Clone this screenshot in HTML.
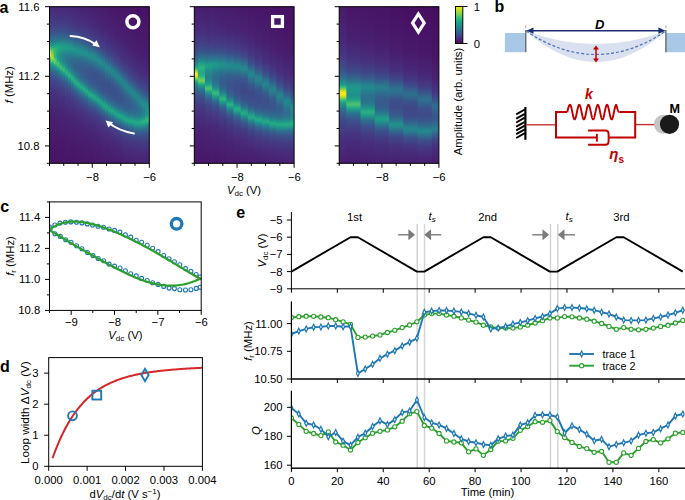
<!DOCTYPE html>
<html><head><meta charset="utf-8"><title>figure</title><style>html,body{margin:0;padding:0;background:#fff;overflow:hidden}svg{display:block;font-family:"Liberation Sans",sans-serif}</style></head><body>
<svg width="685" height="500" viewBox="0 0 685 500">
<defs><linearGradient id="g1" x1="0" y1="0" x2="0" y2="1"><stop offset="0.000" stop-color="#482979"/><stop offset="0.106" stop-color="#433d84"/><stop offset="0.167" stop-color="#3a538b"/><stop offset="0.211" stop-color="#2d718e"/><stop offset="0.239" stop-color="#21918c"/><stop offset="0.250" stop-color="#20a386"/><stop offset="0.256" stop-color="#28ae80"/><stop offset="0.261" stop-color="#3aba76"/><stop offset="0.267" stop-color="#56c667"/><stop offset="0.272" stop-color="#7ad151"/><stop offset="0.283" stop-color="#d0e11c"/><stop offset="0.289" stop-color="#f6e620"/><stop offset="0.294" stop-color="#fde725"/><stop offset="0.306" stop-color="#fde725"/><stop offset="0.311" stop-color="#f6e620"/><stop offset="0.317" stop-color="#d0e11c"/><stop offset="0.328" stop-color="#7ad151"/><stop offset="0.333" stop-color="#56c667"/><stop offset="0.339" stop-color="#3aba76"/><stop offset="0.344" stop-color="#28ae80"/><stop offset="0.350" stop-color="#20a386"/><stop offset="0.367" stop-color="#23898e"/><stop offset="0.400" stop-color="#31688e"/><stop offset="0.456" stop-color="#3e4989"/><stop offset="0.550" stop-color="#46307e"/><stop offset="0.700" stop-color="#482071"/><stop offset="0.939" stop-color="#481668"/><stop offset="1.000" stop-color="#471365"/></linearGradient><linearGradient id="g2" x1="0" y1="0" x2="0" y2="1"><stop offset="0.000" stop-color="#482979"/><stop offset="0.106" stop-color="#443b84"/><stop offset="0.172" stop-color="#3a548c"/><stop offset="0.217" stop-color="#2c738e"/><stop offset="0.244" stop-color="#1f948c"/><stop offset="0.256" stop-color="#21a585"/><stop offset="0.261" stop-color="#28ae80"/><stop offset="0.278" stop-color="#54c568"/><stop offset="0.289" stop-color="#6ece58"/><stop offset="0.322" stop-color="#a5db36"/><stop offset="0.328" stop-color="#a8db34"/><stop offset="0.333" stop-color="#a0da39"/><stop offset="0.339" stop-color="#8bd646"/><stop offset="0.350" stop-color="#50c46a"/><stop offset="0.356" stop-color="#37b878"/><stop offset="0.361" stop-color="#26ad81"/><stop offset="0.367" stop-color="#1fa188"/><stop offset="0.389" stop-color="#277e8e"/><stop offset="0.422" stop-color="#34608d"/><stop offset="0.467" stop-color="#3e4989"/><stop offset="0.544" stop-color="#46337f"/><stop offset="0.700" stop-color="#482071"/><stop offset="1.000" stop-color="#471365"/></linearGradient><linearGradient id="g3" x1="0" y1="0" x2="0" y2="1"><stop offset="0.000" stop-color="#482979"/><stop offset="0.100" stop-color="#443b84"/><stop offset="0.167" stop-color="#3a538b"/><stop offset="0.211" stop-color="#2c728e"/><stop offset="0.239" stop-color="#20938c"/><stop offset="0.250" stop-color="#1fa287"/><stop offset="0.267" stop-color="#2fb47c"/><stop offset="0.278" stop-color="#35b779"/><stop offset="0.311" stop-color="#2eb37c"/><stop offset="0.322" stop-color="#37b878"/><stop offset="0.344" stop-color="#63cb5f"/><stop offset="0.350" stop-color="#67cc5c"/><stop offset="0.356" stop-color="#60ca60"/><stop offset="0.367" stop-color="#3bbb75"/><stop offset="0.372" stop-color="#29af7f"/><stop offset="0.378" stop-color="#20a486"/><stop offset="0.394" stop-color="#24868e"/><stop offset="0.428" stop-color="#33638d"/><stop offset="0.472" stop-color="#3e4989"/><stop offset="0.556" stop-color="#46327e"/><stop offset="0.678" stop-color="#482374"/><stop offset="0.883" stop-color="#481769"/><stop offset="1.000" stop-color="#471365"/></linearGradient><linearGradient id="g4" x1="0" y1="0" x2="0" y2="1"><stop offset="0.000" stop-color="#482979"/><stop offset="0.094" stop-color="#443983"/><stop offset="0.161" stop-color="#3b518b"/><stop offset="0.211" stop-color="#2b758e"/><stop offset="0.244" stop-color="#1f9e89"/><stop offset="0.261" stop-color="#25ab82"/><stop offset="0.283" stop-color="#21a685"/><stop offset="0.311" stop-color="#1f9a8a"/><stop offset="0.333" stop-color="#1fa187"/><stop offset="0.344" stop-color="#27ad81"/><stop offset="0.356" stop-color="#3bbb75"/><stop offset="0.361" stop-color="#48c16e"/><stop offset="0.367" stop-color="#4ec36b"/><stop offset="0.372" stop-color="#4cc26c"/><stop offset="0.389" stop-color="#24aa83"/><stop offset="0.400" stop-color="#1f948c"/><stop offset="0.422" stop-color="#2b748e"/><stop offset="0.461" stop-color="#3a548c"/><stop offset="0.511" stop-color="#423f85"/><stop offset="0.600" stop-color="#472c7a"/><stop offset="0.772" stop-color="#481c6e"/><stop offset="1.000" stop-color="#481467"/></linearGradient><linearGradient id="g5" x1="0" y1="0" x2="0" y2="1"><stop offset="0.000" stop-color="#482878"/><stop offset="0.106" stop-color="#443b84"/><stop offset="0.167" stop-color="#3a548c"/><stop offset="0.200" stop-color="#2f6c8e"/><stop offset="0.239" stop-color="#1f968b"/><stop offset="0.256" stop-color="#20a486"/><stop offset="0.278" stop-color="#1f9f88"/><stop offset="0.311" stop-color="#238a8d"/><stop offset="0.333" stop-color="#228b8d"/><stop offset="0.356" stop-color="#1e9b8a"/><stop offset="0.367" stop-color="#24aa83"/><stop offset="0.383" stop-color="#3fbc73"/><stop offset="0.389" stop-color="#40bd72"/><stop offset="0.400" stop-color="#2db27d"/><stop offset="0.406" stop-color="#22a884"/><stop offset="0.411" stop-color="#1e9d89"/><stop offset="0.433" stop-color="#29798e"/><stop offset="0.461" stop-color="#355e8d"/><stop offset="0.506" stop-color="#404688"/><stop offset="0.550" stop-color="#453882"/><stop offset="0.661" stop-color="#482576"/><stop offset="0.839" stop-color="#481a6c"/><stop offset="1.000" stop-color="#481467"/></linearGradient><linearGradient id="g6" x1="0" y1="0" x2="0" y2="1"><stop offset="0.000" stop-color="#482878"/><stop offset="0.100" stop-color="#443983"/><stop offset="0.161" stop-color="#3c508b"/><stop offset="0.206" stop-color="#2d708e"/><stop offset="0.244" stop-color="#1f9a8a"/><stop offset="0.256" stop-color="#1fa188"/><stop offset="0.272" stop-color="#1e9d89"/><stop offset="0.306" stop-color="#25848e"/><stop offset="0.333" stop-color="#277f8e"/><stop offset="0.356" stop-color="#24878e"/><stop offset="0.378" stop-color="#1fa088"/><stop offset="0.389" stop-color="#29af7f"/><stop offset="0.400" stop-color="#3aba76"/><stop offset="0.406" stop-color="#38b977"/><stop offset="0.417" stop-color="#25ab82"/><stop offset="0.422" stop-color="#1fa188"/><stop offset="0.444" stop-color="#297b8e"/><stop offset="0.472" stop-color="#355f8d"/><stop offset="0.517" stop-color="#404588"/><stop offset="0.589" stop-color="#46307e"/><stop offset="0.700" stop-color="#482374"/><stop offset="0.906" stop-color="#481769"/><stop offset="1.000" stop-color="#481467"/></linearGradient><linearGradient id="g7" x1="0" y1="0" x2="0" y2="1"><stop offset="0.000" stop-color="#482677"/><stop offset="0.111" stop-color="#443a83"/><stop offset="0.172" stop-color="#3a538b"/><stop offset="0.217" stop-color="#2a778e"/><stop offset="0.250" stop-color="#1f9a8a"/><stop offset="0.267" stop-color="#1e9d89"/><stop offset="0.311" stop-color="#287d8e"/><stop offset="0.339" stop-color="#2b758e"/><stop offset="0.361" stop-color="#297a8e"/><stop offset="0.383" stop-color="#228b8d"/><stop offset="0.400" stop-color="#1fa187"/><stop offset="0.417" stop-color="#32b67a"/><stop offset="0.422" stop-color="#34b679"/><stop offset="0.433" stop-color="#25ab82"/><stop offset="0.439" stop-color="#1fa188"/><stop offset="0.456" stop-color="#25838e"/><stop offset="0.478" stop-color="#31688e"/><stop offset="0.511" stop-color="#3c4f8a"/><stop offset="0.567" stop-color="#443983"/><stop offset="0.661" stop-color="#482878"/><stop offset="0.828" stop-color="#481b6d"/><stop offset="1.000" stop-color="#481467"/></linearGradient><linearGradient id="g8" x1="0" y1="0" x2="0" y2="1"><stop offset="0.000" stop-color="#482576"/><stop offset="0.117" stop-color="#443a83"/><stop offset="0.178" stop-color="#3a538b"/><stop offset="0.222" stop-color="#2a778e"/><stop offset="0.256" stop-color="#1f998a"/><stop offset="0.267" stop-color="#1e9b8a"/><stop offset="0.289" stop-color="#228c8d"/><stop offset="0.322" stop-color="#2b748e"/><stop offset="0.356" stop-color="#2e6e8e"/><stop offset="0.383" stop-color="#2a778e"/><stop offset="0.406" stop-color="#228c8d"/><stop offset="0.417" stop-color="#1e9c89"/><stop offset="0.433" stop-color="#2db27d"/><stop offset="0.439" stop-color="#31b57b"/><stop offset="0.450" stop-color="#25ab82"/><stop offset="0.456" stop-color="#1fa187"/><stop offset="0.472" stop-color="#25838e"/><stop offset="0.500" stop-color="#33628d"/><stop offset="0.539" stop-color="#3e4989"/><stop offset="0.594" stop-color="#453581"/><stop offset="0.717" stop-color="#482374"/><stop offset="0.956" stop-color="#481668"/><stop offset="1.000" stop-color="#481467"/></linearGradient><linearGradient id="g9" x1="0" y1="0" x2="0" y2="1"><stop offset="0.000" stop-color="#482576"/><stop offset="0.100" stop-color="#463480"/><stop offset="0.167" stop-color="#3e4989"/><stop offset="0.211" stop-color="#31678e"/><stop offset="0.256" stop-color="#20938c"/><stop offset="0.272" stop-color="#1f988b"/><stop offset="0.306" stop-color="#277f8e"/><stop offset="0.328" stop-color="#2d708e"/><stop offset="0.361" stop-color="#31688e"/><stop offset="0.394" stop-color="#2e6f8e"/><stop offset="0.417" stop-color="#277f8e"/><stop offset="0.439" stop-color="#1f9e89"/><stop offset="0.450" stop-color="#27ad81"/><stop offset="0.456" stop-color="#2db27d"/><stop offset="0.461" stop-color="#2cb17e"/><stop offset="0.472" stop-color="#20a486"/><stop offset="0.483" stop-color="#21918c"/><stop offset="0.506" stop-color="#2d708e"/><stop offset="0.539" stop-color="#3b528b"/><stop offset="0.589" stop-color="#443b84"/><stop offset="0.678" stop-color="#482979"/><stop offset="0.844" stop-color="#481b6d"/><stop offset="1.000" stop-color="#481467"/></linearGradient><linearGradient id="g10" x1="0" y1="0" x2="0" y2="1"><stop offset="0.000" stop-color="#482475"/><stop offset="0.117" stop-color="#453581"/><stop offset="0.172" stop-color="#3f4889"/><stop offset="0.211" stop-color="#34608d"/><stop offset="0.267" stop-color="#1f948c"/><stop offset="0.278" stop-color="#1f968b"/><stop offset="0.306" stop-color="#26828e"/><stop offset="0.333" stop-color="#2e6d8e"/><stop offset="0.372" stop-color="#33628d"/><stop offset="0.406" stop-color="#31678e"/><stop offset="0.433" stop-color="#29798e"/><stop offset="0.456" stop-color="#1f968b"/><stop offset="0.467" stop-color="#22a884"/><stop offset="0.478" stop-color="#2ab07f"/><stop offset="0.489" stop-color="#22a884"/><stop offset="0.500" stop-color="#1f958b"/><stop offset="0.522" stop-color="#2c728e"/><stop offset="0.556" stop-color="#3a538b"/><stop offset="0.611" stop-color="#443a83"/><stop offset="0.700" stop-color="#482878"/><stop offset="0.878" stop-color="#481a6c"/><stop offset="1.000" stop-color="#481668"/></linearGradient><linearGradient id="g11" x1="0" y1="0" x2="0" y2="1"><stop offset="0.000" stop-color="#482374"/><stop offset="0.122" stop-color="#463480"/><stop offset="0.183" stop-color="#3e4989"/><stop offset="0.228" stop-color="#31688e"/><stop offset="0.267" stop-color="#218f8d"/><stop offset="0.283" stop-color="#1f948c"/><stop offset="0.306" stop-color="#25858e"/><stop offset="0.339" stop-color="#2f6b8e"/><stop offset="0.378" stop-color="#355f8d"/><stop offset="0.417" stop-color="#33628d"/><stop offset="0.450" stop-color="#2a768e"/><stop offset="0.472" stop-color="#20928c"/><stop offset="0.483" stop-color="#20a486"/><stop offset="0.489" stop-color="#25ac82"/><stop offset="0.500" stop-color="#27ad81"/><stop offset="0.511" stop-color="#1fa088"/><stop offset="0.533" stop-color="#297a8e"/><stop offset="0.561" stop-color="#365c8d"/><stop offset="0.606" stop-color="#424186"/><stop offset="0.689" stop-color="#472c7a"/><stop offset="0.811" stop-color="#481f70"/><stop offset="1.000" stop-color="#481668"/></linearGradient><linearGradient id="g12" x1="0" y1="0" x2="0" y2="1"><stop offset="0.000" stop-color="#482173"/><stop offset="0.122" stop-color="#46337f"/><stop offset="0.183" stop-color="#404688"/><stop offset="0.222" stop-color="#365d8d"/><stop offset="0.267" stop-color="#24878e"/><stop offset="0.278" stop-color="#21918c"/><stop offset="0.300" stop-color="#218e8d"/><stop offset="0.339" stop-color="#2e6d8e"/><stop offset="0.378" stop-color="#365d8d"/><stop offset="0.422" stop-color="#365d8d"/><stop offset="0.456" stop-color="#2f6b8e"/><stop offset="0.478" stop-color="#26828e"/><stop offset="0.494" stop-color="#1e9b8a"/><stop offset="0.506" stop-color="#25ab82"/><stop offset="0.517" stop-color="#26ad81"/><stop offset="0.528" stop-color="#1f9f88"/><stop offset="0.544" stop-color="#26818e"/><stop offset="0.567" stop-color="#32658e"/><stop offset="0.600" stop-color="#3e4c8a"/><stop offset="0.661" stop-color="#463480"/><stop offset="0.772" stop-color="#482374"/><stop offset="0.978" stop-color="#481769"/><stop offset="1.000" stop-color="#481668"/></linearGradient><linearGradient id="g13" x1="0" y1="0" x2="0" y2="1"><stop offset="0.000" stop-color="#482071"/><stop offset="0.122" stop-color="#46307e"/><stop offset="0.194" stop-color="#3f4788"/><stop offset="0.239" stop-color="#32648e"/><stop offset="0.283" stop-color="#218f8d"/><stop offset="0.300" stop-color="#21908d"/><stop offset="0.356" stop-color="#32658e"/><stop offset="0.400" stop-color="#38598c"/><stop offset="0.439" stop-color="#365c8d"/><stop offset="0.467" stop-color="#30698e"/><stop offset="0.489" stop-color="#277e8e"/><stop offset="0.511" stop-color="#1fa088"/><stop offset="0.522" stop-color="#25ac82"/><stop offset="0.533" stop-color="#23a983"/><stop offset="0.544" stop-color="#1f978b"/><stop offset="0.567" stop-color="#2c738e"/><stop offset="0.600" stop-color="#3a538b"/><stop offset="0.650" stop-color="#443b84"/><stop offset="0.728" stop-color="#472a7a"/><stop offset="0.867" stop-color="#481c6e"/><stop offset="1.000" stop-color="#481668"/></linearGradient><linearGradient id="g14" x1="0" y1="0" x2="0" y2="1"><stop offset="0.000" stop-color="#482071"/><stop offset="0.111" stop-color="#472d7b"/><stop offset="0.178" stop-color="#433d84"/><stop offset="0.228" stop-color="#3a548c"/><stop offset="0.272" stop-color="#287c8e"/><stop offset="0.294" stop-color="#218f8d"/><stop offset="0.306" stop-color="#21908d"/><stop offset="0.367" stop-color="#33628d"/><stop offset="0.417" stop-color="#39558c"/><stop offset="0.456" stop-color="#375a8c"/><stop offset="0.489" stop-color="#2f6c8e"/><stop offset="0.511" stop-color="#25848e"/><stop offset="0.528" stop-color="#1fa088"/><stop offset="0.539" stop-color="#25ac82"/><stop offset="0.550" stop-color="#22a785"/><stop offset="0.561" stop-color="#1f958b"/><stop offset="0.583" stop-color="#2c718e"/><stop offset="0.617" stop-color="#3b528b"/><stop offset="0.656" stop-color="#433e85"/><stop offset="0.728" stop-color="#472c7a"/><stop offset="0.844" stop-color="#481f70"/><stop offset="1.000" stop-color="#481769"/></linearGradient><linearGradient id="g15" x1="0" y1="0" x2="0" y2="1"><stop offset="0.000" stop-color="#481f70"/><stop offset="0.117" stop-color="#472c7a"/><stop offset="0.183" stop-color="#443b84"/><stop offset="0.233" stop-color="#3b528b"/><stop offset="0.278" stop-color="#2a778e"/><stop offset="0.300" stop-color="#228c8d"/><stop offset="0.317" stop-color="#228d8d"/><stop offset="0.367" stop-color="#31668e"/><stop offset="0.411" stop-color="#3a548c"/><stop offset="0.456" stop-color="#3a548c"/><stop offset="0.494" stop-color="#33628d"/><stop offset="0.522" stop-color="#297b8e"/><stop offset="0.544" stop-color="#1e9d89"/><stop offset="0.556" stop-color="#24aa83"/><stop offset="0.561" stop-color="#25ab82"/><stop offset="0.572" stop-color="#1fa088"/><stop offset="0.594" stop-color="#297a8e"/><stop offset="0.617" stop-color="#34608d"/><stop offset="0.656" stop-color="#404588"/><stop offset="0.722" stop-color="#46307e"/><stop offset="0.839" stop-color="#482071"/><stop offset="1.000" stop-color="#481769"/></linearGradient><linearGradient id="g16" x1="0" y1="0" x2="0" y2="1"><stop offset="0.000" stop-color="#481d6f"/><stop offset="0.117" stop-color="#472a7a"/><stop offset="0.200" stop-color="#433e85"/><stop offset="0.250" stop-color="#39568c"/><stop offset="0.306" stop-color="#23898e"/><stop offset="0.322" stop-color="#228d8d"/><stop offset="0.350" stop-color="#2a788e"/><stop offset="0.389" stop-color="#365d8d"/><stop offset="0.428" stop-color="#3b528b"/><stop offset="0.478" stop-color="#39558c"/><stop offset="0.517" stop-color="#30698e"/><stop offset="0.539" stop-color="#26828e"/><stop offset="0.556" stop-color="#1e9c89"/><stop offset="0.567" stop-color="#23a983"/><stop offset="0.578" stop-color="#22a785"/><stop offset="0.589" stop-color="#1f968b"/><stop offset="0.611" stop-color="#2c728e"/><stop offset="0.644" stop-color="#3b528b"/><stop offset="0.689" stop-color="#443b84"/><stop offset="0.761" stop-color="#472a7a"/><stop offset="0.922" stop-color="#481b6d"/><stop offset="1.000" stop-color="#481769"/></linearGradient><linearGradient id="g17" x1="0" y1="0" x2="0" y2="1"><stop offset="0.000" stop-color="#481d6f"/><stop offset="0.133" stop-color="#472a7a"/><stop offset="0.222" stop-color="#424186"/><stop offset="0.267" stop-color="#375b8d"/><stop offset="0.317" stop-color="#23898e"/><stop offset="0.333" stop-color="#228c8d"/><stop offset="0.394" stop-color="#355f8d"/><stop offset="0.433" stop-color="#3b528b"/><stop offset="0.483" stop-color="#3a548c"/><stop offset="0.517" stop-color="#34618d"/><stop offset="0.544" stop-color="#297a8e"/><stop offset="0.567" stop-color="#1e9c89"/><stop offset="0.578" stop-color="#23a983"/><stop offset="0.583" stop-color="#24aa83"/><stop offset="0.594" stop-color="#1f9e89"/><stop offset="0.611" stop-color="#26828e"/><stop offset="0.633" stop-color="#32648e"/><stop offset="0.667" stop-color="#3e4a89"/><stop offset="0.728" stop-color="#46337f"/><stop offset="0.828" stop-color="#482374"/><stop offset="1.000" stop-color="#48186a"/></linearGradient><linearGradient id="g18" x1="0" y1="0" x2="0" y2="1"><stop offset="0.000" stop-color="#481c6e"/><stop offset="0.128" stop-color="#482878"/><stop offset="0.217" stop-color="#443a83"/><stop offset="0.267" stop-color="#3b518b"/><stop offset="0.311" stop-color="#2a768e"/><stop offset="0.333" stop-color="#238a8d"/><stop offset="0.350" stop-color="#238a8d"/><stop offset="0.406" stop-color="#34608d"/><stop offset="0.444" stop-color="#3b528b"/><stop offset="0.494" stop-color="#3b528b"/><stop offset="0.533" stop-color="#33628d"/><stop offset="0.556" stop-color="#2b758e"/><stop offset="0.578" stop-color="#1f968b"/><stop offset="0.589" stop-color="#21a685"/><stop offset="0.600" stop-color="#22a884"/><stop offset="0.611" stop-color="#1e9b8a"/><stop offset="0.633" stop-color="#2b758e"/><stop offset="0.667" stop-color="#3a538b"/><stop offset="0.717" stop-color="#443a83"/><stop offset="0.811" stop-color="#482677"/><stop offset="0.972" stop-color="#481a6c"/><stop offset="1.000" stop-color="#48186a"/></linearGradient><linearGradient id="g19" x1="0" y1="0" x2="0" y2="1"><stop offset="0.000" stop-color="#481b6d"/><stop offset="0.139" stop-color="#482677"/><stop offset="0.233" stop-color="#443a83"/><stop offset="0.278" stop-color="#3d4e8a"/><stop offset="0.322" stop-color="#2c728e"/><stop offset="0.350" stop-color="#238a8d"/><stop offset="0.367" stop-color="#23888e"/><stop offset="0.417" stop-color="#34618d"/><stop offset="0.456" stop-color="#3b528b"/><stop offset="0.506" stop-color="#3b518b"/><stop offset="0.539" stop-color="#375b8d"/><stop offset="0.567" stop-color="#2e6f8e"/><stop offset="0.589" stop-color="#228c8d"/><stop offset="0.600" stop-color="#1f9f88"/><stop offset="0.611" stop-color="#23a983"/><stop offset="0.622" stop-color="#1fa287"/><stop offset="0.644" stop-color="#277e8e"/><stop offset="0.667" stop-color="#33628d"/><stop offset="0.700" stop-color="#3f4889"/><stop offset="0.772" stop-color="#472f7d"/><stop offset="0.900" stop-color="#481f70"/><stop offset="1.000" stop-color="#48186a"/></linearGradient><linearGradient id="g20" x1="0" y1="0" x2="0" y2="1"><stop offset="0.000" stop-color="#481a6c"/><stop offset="0.156" stop-color="#482677"/><stop offset="0.250" stop-color="#443b84"/><stop offset="0.300" stop-color="#3a538b"/><stop offset="0.339" stop-color="#2b748e"/><stop offset="0.367" stop-color="#238a8d"/><stop offset="0.389" stop-color="#26818e"/><stop offset="0.433" stop-color="#355f8d"/><stop offset="0.472" stop-color="#3b518b"/><stop offset="0.528" stop-color="#3b518b"/><stop offset="0.567" stop-color="#33628d"/><stop offset="0.594" stop-color="#287c8e"/><stop offset="0.617" stop-color="#1f9f88"/><stop offset="0.628" stop-color="#22a884"/><stop offset="0.639" stop-color="#1fa188"/><stop offset="0.661" stop-color="#287c8e"/><stop offset="0.683" stop-color="#34618d"/><stop offset="0.706" stop-color="#3c4f8a"/><stop offset="0.744" stop-color="#443b84"/><stop offset="0.822" stop-color="#482979"/><stop offset="0.972" stop-color="#481b6d"/><stop offset="1.000" stop-color="#481a6c"/></linearGradient><linearGradient id="g21" x1="0" y1="0" x2="0" y2="1"><stop offset="0.000" stop-color="#481a6c"/><stop offset="0.128" stop-color="#482173"/><stop offset="0.250" stop-color="#453581"/><stop offset="0.311" stop-color="#3c4f8a"/><stop offset="0.344" stop-color="#31688e"/><stop offset="0.378" stop-color="#24868e"/><stop offset="0.394" stop-color="#23888e"/><stop offset="0.417" stop-color="#2a778e"/><stop offset="0.456" stop-color="#365d8d"/><stop offset="0.489" stop-color="#3b528b"/><stop offset="0.539" stop-color="#3b528b"/><stop offset="0.578" stop-color="#34618d"/><stop offset="0.606" stop-color="#297b8e"/><stop offset="0.628" stop-color="#1e9d89"/><stop offset="0.639" stop-color="#22a884"/><stop offset="0.650" stop-color="#1fa287"/><stop offset="0.672" stop-color="#277e8e"/><stop offset="0.694" stop-color="#33628d"/><stop offset="0.728" stop-color="#3f4889"/><stop offset="0.794" stop-color="#46307e"/><stop offset="0.911" stop-color="#482071"/><stop offset="1.000" stop-color="#481a6c"/></linearGradient><linearGradient id="g22" x1="0" y1="0" x2="0" y2="1"><stop offset="0.000" stop-color="#48186a"/><stop offset="0.183" stop-color="#482677"/><stop offset="0.272" stop-color="#453882"/><stop offset="0.322" stop-color="#3d4e8a"/><stop offset="0.356" stop-color="#31678e"/><stop offset="0.389" stop-color="#25858e"/><stop offset="0.406" stop-color="#24878e"/><stop offset="0.467" stop-color="#365c8d"/><stop offset="0.500" stop-color="#3b518b"/><stop offset="0.556" stop-color="#3b518b"/><stop offset="0.594" stop-color="#33628d"/><stop offset="0.622" stop-color="#277e8e"/><stop offset="0.644" stop-color="#1fa088"/><stop offset="0.656" stop-color="#22a884"/><stop offset="0.667" stop-color="#1f9f88"/><stop offset="0.683" stop-color="#26828e"/><stop offset="0.706" stop-color="#32658e"/><stop offset="0.739" stop-color="#3e4a89"/><stop offset="0.794" stop-color="#463480"/><stop offset="0.894" stop-color="#482374"/><stop offset="1.000" stop-color="#481b6d"/></linearGradient><linearGradient id="g23" x1="0" y1="0" x2="0" y2="1"><stop offset="0.000" stop-color="#481769"/><stop offset="0.172" stop-color="#482374"/><stop offset="0.272" stop-color="#463480"/><stop offset="0.322" stop-color="#404588"/><stop offset="0.361" stop-color="#355e8d"/><stop offset="0.406" stop-color="#25858e"/><stop offset="0.422" stop-color="#24868e"/><stop offset="0.478" stop-color="#355e8d"/><stop offset="0.517" stop-color="#3b518b"/><stop offset="0.561" stop-color="#3b518b"/><stop offset="0.594" stop-color="#375b8d"/><stop offset="0.628" stop-color="#2b758e"/><stop offset="0.650" stop-color="#1f968b"/><stop offset="0.661" stop-color="#21a585"/><stop offset="0.667" stop-color="#22a884"/><stop offset="0.678" stop-color="#1fa088"/><stop offset="0.694" stop-color="#25838e"/><stop offset="0.717" stop-color="#32658e"/><stop offset="0.750" stop-color="#3e4a89"/><stop offset="0.806" stop-color="#463480"/><stop offset="0.906" stop-color="#482374"/><stop offset="1.000" stop-color="#481b6d"/></linearGradient><linearGradient id="g24" x1="0" y1="0" x2="0" y2="1"><stop offset="0.000" stop-color="#481769"/><stop offset="0.178" stop-color="#482173"/><stop offset="0.289" stop-color="#46337f"/><stop offset="0.350" stop-color="#3e4a89"/><stop offset="0.389" stop-color="#31678e"/><stop offset="0.422" stop-color="#25848e"/><stop offset="0.439" stop-color="#25858e"/><stop offset="0.500" stop-color="#365c8d"/><stop offset="0.533" stop-color="#3b518b"/><stop offset="0.583" stop-color="#3a538b"/><stop offset="0.622" stop-color="#32658e"/><stop offset="0.650" stop-color="#26828e"/><stop offset="0.667" stop-color="#1e9d89"/><stop offset="0.678" stop-color="#22a785"/><stop offset="0.689" stop-color="#1fa188"/><stop offset="0.711" stop-color="#287c8e"/><stop offset="0.744" stop-color="#39568c"/><stop offset="0.794" stop-color="#443b84"/><stop offset="0.878" stop-color="#482878"/><stop offset="1.000" stop-color="#481c6e"/></linearGradient><linearGradient id="g25" x1="0" y1="0" x2="0" y2="1"><stop offset="0.000" stop-color="#481668"/><stop offset="0.194" stop-color="#482173"/><stop offset="0.311" stop-color="#463480"/><stop offset="0.372" stop-color="#3d4d8a"/><stop offset="0.417" stop-color="#2d718e"/><stop offset="0.444" stop-color="#24868e"/><stop offset="0.467" stop-color="#277f8e"/><stop offset="0.511" stop-color="#355e8d"/><stop offset="0.550" stop-color="#3b528b"/><stop offset="0.600" stop-color="#3a548c"/><stop offset="0.639" stop-color="#31688e"/><stop offset="0.661" stop-color="#26818e"/><stop offset="0.678" stop-color="#1e9b8a"/><stop offset="0.689" stop-color="#22a785"/><stop offset="0.700" stop-color="#1fa287"/><stop offset="0.711" stop-color="#20928c"/><stop offset="0.733" stop-color="#2e6f8e"/><stop offset="0.767" stop-color="#3c4f8a"/><stop offset="0.811" stop-color="#443a83"/><stop offset="0.889" stop-color="#482878"/><stop offset="1.000" stop-color="#481d6f"/></linearGradient><linearGradient id="g26" x1="0" y1="0" x2="0" y2="1"><stop offset="0.000" stop-color="#481668"/><stop offset="0.211" stop-color="#482173"/><stop offset="0.311" stop-color="#46307e"/><stop offset="0.367" stop-color="#424186"/><stop offset="0.406" stop-color="#39568c"/><stop offset="0.461" stop-color="#25858e"/><stop offset="0.478" stop-color="#25838e"/><stop offset="0.533" stop-color="#355e8d"/><stop offset="0.578" stop-color="#3a538b"/><stop offset="0.611" stop-color="#39568c"/><stop offset="0.650" stop-color="#2f6b8e"/><stop offset="0.672" stop-color="#25858e"/><stop offset="0.689" stop-color="#1f9f88"/><stop offset="0.700" stop-color="#22a884"/><stop offset="0.711" stop-color="#1fa088"/><stop offset="0.733" stop-color="#297b8e"/><stop offset="0.756" stop-color="#34608d"/><stop offset="0.783" stop-color="#3e4a89"/><stop offset="0.839" stop-color="#463480"/><stop offset="0.939" stop-color="#482374"/><stop offset="1.000" stop-color="#481d6f"/></linearGradient><linearGradient id="g27" x1="0" y1="0" x2="0" y2="1"><stop offset="0.000" stop-color="#481467"/><stop offset="0.222" stop-color="#482071"/><stop offset="0.333" stop-color="#46307e"/><stop offset="0.400" stop-color="#404688"/><stop offset="0.433" stop-color="#375b8d"/><stop offset="0.483" stop-color="#25858e"/><stop offset="0.506" stop-color="#27808e"/><stop offset="0.550" stop-color="#34618d"/><stop offset="0.594" stop-color="#39558c"/><stop offset="0.639" stop-color="#355e8d"/><stop offset="0.667" stop-color="#2c718e"/><stop offset="0.689" stop-color="#218e8d"/><stop offset="0.700" stop-color="#1fa088"/><stop offset="0.711" stop-color="#22a884"/><stop offset="0.722" stop-color="#1fa088"/><stop offset="0.739" stop-color="#25838e"/><stop offset="0.767" stop-color="#34608d"/><stop offset="0.800" stop-color="#3f4889"/><stop offset="0.856" stop-color="#46337f"/><stop offset="0.956" stop-color="#482374"/><stop offset="1.000" stop-color="#481f70"/></linearGradient><linearGradient id="g28" x1="0" y1="0" x2="0" y2="1"><stop offset="0.000" stop-color="#481467"/><stop offset="0.228" stop-color="#481f70"/><stop offset="0.328" stop-color="#472c7a"/><stop offset="0.394" stop-color="#443b84"/><stop offset="0.444" stop-color="#3a548c"/><stop offset="0.500" stop-color="#25838e"/><stop offset="0.517" stop-color="#25848e"/><stop offset="0.578" stop-color="#355e8d"/><stop offset="0.622" stop-color="#38598c"/><stop offset="0.656" stop-color="#33628d"/><stop offset="0.683" stop-color="#29798e"/><stop offset="0.706" stop-color="#1f998a"/><stop offset="0.717" stop-color="#21a685"/><stop offset="0.722" stop-color="#22a884"/><stop offset="0.733" stop-color="#1f9f88"/><stop offset="0.750" stop-color="#26828e"/><stop offset="0.778" stop-color="#355f8d"/><stop offset="0.811" stop-color="#3f4788"/><stop offset="0.867" stop-color="#46337f"/><stop offset="0.967" stop-color="#482374"/><stop offset="1.000" stop-color="#482071"/></linearGradient><linearGradient id="g29" x1="0" y1="0" x2="0" y2="1"><stop offset="0.000" stop-color="#471365"/><stop offset="0.244" stop-color="#481f70"/><stop offset="0.367" stop-color="#472f7d"/><stop offset="0.433" stop-color="#414487"/><stop offset="0.472" stop-color="#365c8d"/><stop offset="0.517" stop-color="#26828e"/><stop offset="0.533" stop-color="#25858e"/><stop offset="0.589" stop-color="#33638d"/><stop offset="0.628" stop-color="#365c8d"/><stop offset="0.661" stop-color="#33638d"/><stop offset="0.689" stop-color="#2a788e"/><stop offset="0.711" stop-color="#1f978b"/><stop offset="0.722" stop-color="#21a685"/><stop offset="0.728" stop-color="#23a983"/><stop offset="0.739" stop-color="#1fa188"/><stop offset="0.761" stop-color="#287c8e"/><stop offset="0.789" stop-color="#365c8d"/><stop offset="0.828" stop-color="#414287"/><stop offset="0.900" stop-color="#472d7b"/><stop offset="1.000" stop-color="#482071"/></linearGradient><linearGradient id="g30" x1="0" y1="0" x2="0" y2="1"><stop offset="0.000" stop-color="#471365"/><stop offset="0.244" stop-color="#481d6f"/><stop offset="0.378" stop-color="#472e7c"/><stop offset="0.444" stop-color="#424186"/><stop offset="0.489" stop-color="#375b8d"/><stop offset="0.539" stop-color="#25858e"/><stop offset="0.556" stop-color="#25848e"/><stop offset="0.606" stop-color="#31668e"/><stop offset="0.639" stop-color="#34608d"/><stop offset="0.672" stop-color="#306a8e"/><stop offset="0.694" stop-color="#287c8e"/><stop offset="0.717" stop-color="#1e9c89"/><stop offset="0.728" stop-color="#22a884"/><stop offset="0.733" stop-color="#24aa83"/><stop offset="0.744" stop-color="#1f9f88"/><stop offset="0.761" stop-color="#26828e"/><stop offset="0.789" stop-color="#34608d"/><stop offset="0.822" stop-color="#3f4889"/><stop offset="0.878" stop-color="#46337f"/><stop offset="0.978" stop-color="#482374"/><stop offset="1.000" stop-color="#482173"/></linearGradient><linearGradient id="g31" x1="0" y1="0" x2="0" y2="1"><stop offset="0.000" stop-color="#471365"/><stop offset="0.261" stop-color="#481d6f"/><stop offset="0.378" stop-color="#472c7a"/><stop offset="0.444" stop-color="#443b84"/><stop offset="0.500" stop-color="#39568c"/><stop offset="0.556" stop-color="#25858e"/><stop offset="0.572" stop-color="#25858e"/><stop offset="0.617" stop-color="#306a8e"/><stop offset="0.650" stop-color="#32648e"/><stop offset="0.678" stop-color="#2f6b8e"/><stop offset="0.700" stop-color="#297b8e"/><stop offset="0.722" stop-color="#1f9a8a"/><stop offset="0.733" stop-color="#22a884"/><stop offset="0.744" stop-color="#22a884"/><stop offset="0.756" stop-color="#1f998a"/><stop offset="0.778" stop-color="#2b748e"/><stop offset="0.811" stop-color="#3a538b"/><stop offset="0.861" stop-color="#443a83"/><stop offset="0.956" stop-color="#482677"/><stop offset="1.000" stop-color="#482173"/></linearGradient><linearGradient id="g32" x1="0" y1="0" x2="0" y2="1"><stop offset="0.000" stop-color="#471164"/><stop offset="0.278" stop-color="#481d6f"/><stop offset="0.411" stop-color="#472e7c"/><stop offset="0.478" stop-color="#424186"/><stop offset="0.517" stop-color="#39558c"/><stop offset="0.572" stop-color="#25848e"/><stop offset="0.589" stop-color="#23888e"/><stop offset="0.633" stop-color="#2d708e"/><stop offset="0.661" stop-color="#2f6b8e"/><stop offset="0.689" stop-color="#2b748e"/><stop offset="0.711" stop-color="#238a8d"/><stop offset="0.728" stop-color="#1fa287"/><stop offset="0.739" stop-color="#25ac82"/><stop offset="0.750" stop-color="#21a585"/><stop offset="0.756" stop-color="#1e9d89"/><stop offset="0.772" stop-color="#27808e"/><stop offset="0.800" stop-color="#355f8d"/><stop offset="0.833" stop-color="#3f4889"/><stop offset="0.883" stop-color="#453581"/><stop offset="0.989" stop-color="#482374"/><stop offset="1.000" stop-color="#482173"/></linearGradient><linearGradient id="g33" x1="0" y1="0" x2="0" y2="1"><stop offset="0.000" stop-color="#471164"/><stop offset="0.294" stop-color="#481d6f"/><stop offset="0.439" stop-color="#46307e"/><stop offset="0.511" stop-color="#3f4889"/><stop offset="0.556" stop-color="#31678e"/><stop offset="0.589" stop-color="#25858e"/><stop offset="0.606" stop-color="#238a8d"/><stop offset="0.656" stop-color="#2b748e"/><stop offset="0.678" stop-color="#2b758e"/><stop offset="0.700" stop-color="#26828e"/><stop offset="0.722" stop-color="#1f9e89"/><stop offset="0.733" stop-color="#25ac82"/><stop offset="0.744" stop-color="#25ac82"/><stop offset="0.756" stop-color="#1f9e89"/><stop offset="0.783" stop-color="#2c718e"/><stop offset="0.817" stop-color="#3b528b"/><stop offset="0.867" stop-color="#443a83"/><stop offset="0.972" stop-color="#482576"/><stop offset="1.000" stop-color="#482374"/></linearGradient><linearGradient id="g34" x1="0" y1="0" x2="0" y2="1"><stop offset="0.000" stop-color="#471164"/><stop offset="0.306" stop-color="#481d6f"/><stop offset="0.439" stop-color="#472e7c"/><stop offset="0.511" stop-color="#414287"/><stop offset="0.561" stop-color="#355f8d"/><stop offset="0.611" stop-color="#228c8d"/><stop offset="0.633" stop-color="#228b8d"/><stop offset="0.661" stop-color="#27808e"/><stop offset="0.683" stop-color="#26818e"/><stop offset="0.706" stop-color="#20928c"/><stop offset="0.722" stop-color="#22a785"/><stop offset="0.733" stop-color="#2cb17e"/><stop offset="0.744" stop-color="#25ac82"/><stop offset="0.756" stop-color="#1f998a"/><stop offset="0.778" stop-color="#2b758e"/><stop offset="0.811" stop-color="#39558c"/><stop offset="0.850" stop-color="#424086"/><stop offset="0.928" stop-color="#472c7a"/><stop offset="1.000" stop-color="#482374"/></linearGradient><linearGradient id="g35" x1="0" y1="0" x2="0" y2="1"><stop offset="0.000" stop-color="#471164"/><stop offset="0.294" stop-color="#481c6e"/><stop offset="0.428" stop-color="#472a7a"/><stop offset="0.517" stop-color="#423f85"/><stop offset="0.572" stop-color="#365d8d"/><stop offset="0.617" stop-color="#24878e"/><stop offset="0.633" stop-color="#20938c"/><stop offset="0.661" stop-color="#20928c"/><stop offset="0.689" stop-color="#1f958b"/><stop offset="0.706" stop-color="#20a486"/><stop offset="0.722" stop-color="#32b67a"/><stop offset="0.728" stop-color="#34b679"/><stop offset="0.739" stop-color="#26ad81"/><stop offset="0.744" stop-color="#20a386"/><stop offset="0.756" stop-color="#218f8d"/><stop offset="0.778" stop-color="#2e6f8e"/><stop offset="0.811" stop-color="#3b528b"/><stop offset="0.861" stop-color="#443b84"/><stop offset="0.961" stop-color="#482677"/><stop offset="1.000" stop-color="#482374"/></linearGradient><linearGradient id="g36" x1="0" y1="0" x2="0" y2="1"><stop offset="0.000" stop-color="#471063"/><stop offset="0.322" stop-color="#481d6f"/><stop offset="0.439" stop-color="#472a7a"/><stop offset="0.528" stop-color="#423f85"/><stop offset="0.572" stop-color="#3a548c"/><stop offset="0.617" stop-color="#29798e"/><stop offset="0.650" stop-color="#1f9e89"/><stop offset="0.683" stop-color="#25ab82"/><stop offset="0.694" stop-color="#2cb17e"/><stop offset="0.711" stop-color="#44bf70"/><stop offset="0.717" stop-color="#48c16e"/><stop offset="0.722" stop-color="#44bf70"/><stop offset="0.733" stop-color="#2ab07f"/><stop offset="0.739" stop-color="#21a585"/><stop offset="0.750" stop-color="#21908d"/><stop offset="0.772" stop-color="#2d708e"/><stop offset="0.811" stop-color="#3c508b"/><stop offset="0.867" stop-color="#443983"/><stop offset="0.950" stop-color="#482878"/><stop offset="1.000" stop-color="#482374"/></linearGradient><linearGradient id="g37" x1="0" y1="0" x2="0" y2="1"><stop offset="0.000" stop-color="#481c6e"/><stop offset="0.156" stop-color="#472a7a"/><stop offset="0.250" stop-color="#433d84"/><stop offset="0.311" stop-color="#39558c"/><stop offset="0.350" stop-color="#2c718e"/><stop offset="0.378" stop-color="#20938c"/><stop offset="0.389" stop-color="#22a884"/><stop offset="0.394" stop-color="#2fb47c"/><stop offset="0.400" stop-color="#48c16e"/><stop offset="0.406" stop-color="#67cc5c"/><stop offset="0.417" stop-color="#b8de29"/><stop offset="0.422" stop-color="#dde318"/><stop offset="0.428" stop-color="#f6e620"/><stop offset="0.433" stop-color="#fde725"/><stop offset="0.439" stop-color="#f6e620"/><stop offset="0.444" stop-color="#dde318"/><stop offset="0.450" stop-color="#b8de29"/><stop offset="0.461" stop-color="#67cc5c"/><stop offset="0.467" stop-color="#48c16e"/><stop offset="0.472" stop-color="#2fb47c"/><stop offset="0.478" stop-color="#22a884"/><stop offset="0.489" stop-color="#20938c"/><stop offset="0.517" stop-color="#2c718e"/><stop offset="0.561" stop-color="#3b528b"/><stop offset="0.628" stop-color="#443a83"/><stop offset="0.728" stop-color="#482878"/><stop offset="0.894" stop-color="#481b6d"/><stop offset="1.000" stop-color="#481769"/></linearGradient><linearGradient id="g38" x1="0" y1="0" x2="0" y2="1"><stop offset="0.000" stop-color="#481d6f"/><stop offset="0.150" stop-color="#472d7b"/><stop offset="0.244" stop-color="#414287"/><stop offset="0.289" stop-color="#39568c"/><stop offset="0.328" stop-color="#2c738e"/><stop offset="0.356" stop-color="#1f948c"/><stop offset="0.372" stop-color="#23a983"/><stop offset="0.389" stop-color="#2cb17e"/><stop offset="0.422" stop-color="#23a983"/><stop offset="0.439" stop-color="#2ab07f"/><stop offset="0.450" stop-color="#3dbc74"/><stop offset="0.467" stop-color="#69cd5b"/><stop offset="0.472" stop-color="#6ccd5a"/><stop offset="0.478" stop-color="#63cb5f"/><stop offset="0.489" stop-color="#3aba76"/><stop offset="0.494" stop-color="#27ad81"/><stop offset="0.500" stop-color="#1fa187"/><stop offset="0.522" stop-color="#287c8e"/><stop offset="0.550" stop-color="#34618d"/><stop offset="0.589" stop-color="#3e4a89"/><stop offset="0.667" stop-color="#46337f"/><stop offset="0.789" stop-color="#482374"/><stop offset="0.994" stop-color="#481769"/><stop offset="1.000" stop-color="#481769"/></linearGradient><linearGradient id="g39" x1="0" y1="0" x2="0" y2="1"><stop offset="0.000" stop-color="#481c6e"/><stop offset="0.150" stop-color="#472a7a"/><stop offset="0.233" stop-color="#443b84"/><stop offset="0.294" stop-color="#39558c"/><stop offset="0.339" stop-color="#297b8e"/><stop offset="0.367" stop-color="#1f9a8a"/><stop offset="0.378" stop-color="#1fa088"/><stop offset="0.394" stop-color="#1f998a"/><stop offset="0.428" stop-color="#26828e"/><stop offset="0.456" stop-color="#277f8e"/><stop offset="0.478" stop-color="#238a8d"/><stop offset="0.494" stop-color="#1f9e89"/><stop offset="0.500" stop-color="#22a785"/><stop offset="0.506" stop-color="#2ab07f"/><stop offset="0.517" stop-color="#42be71"/><stop offset="0.522" stop-color="#46c06f"/><stop offset="0.528" stop-color="#3fbc73"/><stop offset="0.539" stop-color="#25ab82"/><stop offset="0.544" stop-color="#1f9f88"/><stop offset="0.567" stop-color="#29798e"/><stop offset="0.594" stop-color="#365d8d"/><stop offset="0.633" stop-color="#404688"/><stop offset="0.694" stop-color="#463480"/><stop offset="0.789" stop-color="#482576"/><stop offset="0.950" stop-color="#481a6c"/><stop offset="1.000" stop-color="#481769"/></linearGradient><linearGradient id="g40" x1="0" y1="0" x2="0" y2="1"><stop offset="0.000" stop-color="#481c6e"/><stop offset="0.156" stop-color="#472a7a"/><stop offset="0.256" stop-color="#414287"/><stop offset="0.300" stop-color="#375a8c"/><stop offset="0.333" stop-color="#2a778e"/><stop offset="0.361" stop-color="#1f948c"/><stop offset="0.372" stop-color="#1f988b"/><stop offset="0.394" stop-color="#228b8d"/><stop offset="0.428" stop-color="#2c728e"/><stop offset="0.461" stop-color="#2f6b8e"/><stop offset="0.494" stop-color="#2b748e"/><stop offset="0.511" stop-color="#26828e"/><stop offset="0.528" stop-color="#1e9b8a"/><stop offset="0.533" stop-color="#20a486"/><stop offset="0.544" stop-color="#32b67a"/><stop offset="0.550" stop-color="#38b977"/><stop offset="0.556" stop-color="#37b878"/><stop offset="0.567" stop-color="#23a983"/><stop offset="0.578" stop-color="#20928c"/><stop offset="0.600" stop-color="#2d708e"/><stop offset="0.633" stop-color="#3b528b"/><stop offset="0.683" stop-color="#443b84"/><stop offset="0.772" stop-color="#482979"/><stop offset="0.939" stop-color="#481b6d"/><stop offset="1.000" stop-color="#48186a"/></linearGradient><linearGradient id="g41" x1="0" y1="0" x2="0" y2="1"><stop offset="0.000" stop-color="#481b6d"/><stop offset="0.139" stop-color="#482677"/><stop offset="0.244" stop-color="#443b84"/><stop offset="0.300" stop-color="#39568c"/><stop offset="0.339" stop-color="#29798e"/><stop offset="0.361" stop-color="#218f8d"/><stop offset="0.378" stop-color="#21918c"/><stop offset="0.428" stop-color="#306a8e"/><stop offset="0.461" stop-color="#355e8d"/><stop offset="0.494" stop-color="#365d8d"/><stop offset="0.528" stop-color="#306a8e"/><stop offset="0.550" stop-color="#277f8e"/><stop offset="0.572" stop-color="#1fa287"/><stop offset="0.583" stop-color="#2db27d"/><stop offset="0.589" stop-color="#31b57b"/><stop offset="0.600" stop-color="#24aa83"/><stop offset="0.606" stop-color="#1fa088"/><stop offset="0.622" stop-color="#26818e"/><stop offset="0.644" stop-color="#32648e"/><stop offset="0.672" stop-color="#3d4e8a"/><stop offset="0.717" stop-color="#443a83"/><stop offset="0.806" stop-color="#482878"/><stop offset="0.956" stop-color="#481b6d"/><stop offset="1.000" stop-color="#48186a"/></linearGradient><linearGradient id="g42" x1="0" y1="0" x2="0" y2="1"><stop offset="0.000" stop-color="#481a6c"/><stop offset="0.156" stop-color="#482677"/><stop offset="0.244" stop-color="#453882"/><stop offset="0.289" stop-color="#3e4989"/><stop offset="0.333" stop-color="#306a8e"/><stop offset="0.367" stop-color="#228b8d"/><stop offset="0.383" stop-color="#228c8d"/><stop offset="0.439" stop-color="#34618d"/><stop offset="0.483" stop-color="#3a538b"/><stop offset="0.528" stop-color="#39558c"/><stop offset="0.561" stop-color="#33638d"/><stop offset="0.589" stop-color="#287d8e"/><stop offset="0.606" stop-color="#1f988b"/><stop offset="0.611" stop-color="#1fa287"/><stop offset="0.622" stop-color="#2ab07f"/><stop offset="0.633" stop-color="#25ac82"/><stop offset="0.639" stop-color="#1fa287"/><stop offset="0.656" stop-color="#25838e"/><stop offset="0.678" stop-color="#32658e"/><stop offset="0.711" stop-color="#3e4a89"/><stop offset="0.772" stop-color="#46337f"/><stop offset="0.878" stop-color="#482374"/><stop offset="1.000" stop-color="#481a6c"/></linearGradient><linearGradient id="g43" x1="0" y1="0" x2="0" y2="1"><stop offset="0.000" stop-color="#48186a"/><stop offset="0.172" stop-color="#482677"/><stop offset="0.267" stop-color="#443b84"/><stop offset="0.317" stop-color="#3a548c"/><stop offset="0.372" stop-color="#24868e"/><stop offset="0.389" stop-color="#23898e"/><stop offset="0.444" stop-color="#355e8d"/><stop offset="0.478" stop-color="#3c508b"/><stop offset="0.533" stop-color="#3e4c8a"/><stop offset="0.572" stop-color="#39558c"/><stop offset="0.606" stop-color="#2f6b8e"/><stop offset="0.628" stop-color="#23888e"/><stop offset="0.639" stop-color="#1e9c89"/><stop offset="0.650" stop-color="#25ac82"/><stop offset="0.661" stop-color="#25ab82"/><stop offset="0.672" stop-color="#1f9a8a"/><stop offset="0.694" stop-color="#2c738e"/><stop offset="0.728" stop-color="#3b518b"/><stop offset="0.772" stop-color="#443b84"/><stop offset="0.856" stop-color="#482878"/><stop offset="0.994" stop-color="#481b6d"/><stop offset="1.000" stop-color="#481b6d"/></linearGradient><linearGradient id="g44" x1="0" y1="0" x2="0" y2="1"><stop offset="0.000" stop-color="#48186a"/><stop offset="0.161" stop-color="#482374"/><stop offset="0.261" stop-color="#463480"/><stop offset="0.317" stop-color="#3e4a89"/><stop offset="0.356" stop-color="#30698e"/><stop offset="0.383" stop-color="#25838e"/><stop offset="0.400" stop-color="#24878e"/><stop offset="0.417" stop-color="#287c8e"/><stop offset="0.456" stop-color="#365c8d"/><stop offset="0.489" stop-color="#3d4e8a"/><stop offset="0.539" stop-color="#3f4788"/><stop offset="0.594" stop-color="#3b528b"/><stop offset="0.628" stop-color="#31678e"/><stop offset="0.644" stop-color="#297a8e"/><stop offset="0.667" stop-color="#1fa088"/><stop offset="0.678" stop-color="#25ac82"/><stop offset="0.689" stop-color="#21a585"/><stop offset="0.694" stop-color="#1e9c89"/><stop offset="0.717" stop-color="#2b758e"/><stop offset="0.744" stop-color="#39568c"/><stop offset="0.783" stop-color="#423f85"/><stop offset="0.844" stop-color="#472d7b"/><stop offset="0.989" stop-color="#481c6e"/><stop offset="1.000" stop-color="#481c6e"/></linearGradient><linearGradient id="g45" x1="0" y1="0" x2="0" y2="1"><stop offset="0.000" stop-color="#481668"/><stop offset="0.189" stop-color="#482173"/><stop offset="0.300" stop-color="#463480"/><stop offset="0.350" stop-color="#3f4889"/><stop offset="0.383" stop-color="#34608d"/><stop offset="0.422" stop-color="#25838e"/><stop offset="0.439" stop-color="#25848e"/><stop offset="0.500" stop-color="#38588c"/><stop offset="0.544" stop-color="#3e4a89"/><stop offset="0.594" stop-color="#3e4c8a"/><stop offset="0.628" stop-color="#39568c"/><stop offset="0.661" stop-color="#2d708e"/><stop offset="0.683" stop-color="#21918c"/><stop offset="0.694" stop-color="#20a386"/><stop offset="0.706" stop-color="#25ab82"/><stop offset="0.717" stop-color="#1f9f88"/><stop offset="0.733" stop-color="#26818e"/><stop offset="0.756" stop-color="#33628d"/><stop offset="0.789" stop-color="#3f4889"/><stop offset="0.844" stop-color="#46337f"/><stop offset="0.928" stop-color="#482475"/><stop offset="1.000" stop-color="#481d6f"/></linearGradient><linearGradient id="g46" x1="0" y1="0" x2="0" y2="1"><stop offset="0.000" stop-color="#481467"/><stop offset="0.222" stop-color="#482173"/><stop offset="0.333" stop-color="#453581"/><stop offset="0.389" stop-color="#3d4d8a"/><stop offset="0.428" stop-color="#2f6c8e"/><stop offset="0.456" stop-color="#25838e"/><stop offset="0.472" stop-color="#26828e"/><stop offset="0.528" stop-color="#38598c"/><stop offset="0.572" stop-color="#3e4c8a"/><stop offset="0.606" stop-color="#3e4c8a"/><stop offset="0.644" stop-color="#39568c"/><stop offset="0.672" stop-color="#30698e"/><stop offset="0.689" stop-color="#287c8e"/><stop offset="0.711" stop-color="#1fa188"/><stop offset="0.722" stop-color="#24aa83"/><stop offset="0.733" stop-color="#1fa088"/><stop offset="0.750" stop-color="#26828e"/><stop offset="0.772" stop-color="#33638d"/><stop offset="0.806" stop-color="#3f4889"/><stop offset="0.861" stop-color="#46337f"/><stop offset="0.950" stop-color="#482374"/><stop offset="1.000" stop-color="#481f70"/></linearGradient><linearGradient id="g47" x1="0" y1="0" x2="0" y2="1"><stop offset="0.000" stop-color="#481467"/><stop offset="0.228" stop-color="#481f70"/><stop offset="0.350" stop-color="#46307e"/><stop offset="0.417" stop-color="#3e4a89"/><stop offset="0.444" stop-color="#355e8d"/><stop offset="0.483" stop-color="#26818e"/><stop offset="0.500" stop-color="#26828e"/><stop offset="0.556" stop-color="#375b8d"/><stop offset="0.589" stop-color="#3c508b"/><stop offset="0.639" stop-color="#3b528b"/><stop offset="0.661" stop-color="#375a8c"/><stop offset="0.689" stop-color="#2e6e8e"/><stop offset="0.711" stop-color="#228c8d"/><stop offset="0.722" stop-color="#1f9f88"/><stop offset="0.733" stop-color="#23a983"/><stop offset="0.744" stop-color="#1fa188"/><stop offset="0.761" stop-color="#25838e"/><stop offset="0.783" stop-color="#32648e"/><stop offset="0.817" stop-color="#3e4989"/><stop offset="0.856" stop-color="#453882"/><stop offset="0.944" stop-color="#482576"/><stop offset="1.000" stop-color="#481f70"/></linearGradient><linearGradient id="g48" x1="0" y1="0" x2="0" y2="1"><stop offset="0.000" stop-color="#471365"/><stop offset="0.244" stop-color="#481d6f"/><stop offset="0.372" stop-color="#472e7c"/><stop offset="0.439" stop-color="#414287"/><stop offset="0.483" stop-color="#34608d"/><stop offset="0.522" stop-color="#26828e"/><stop offset="0.544" stop-color="#287d8e"/><stop offset="0.583" stop-color="#34618d"/><stop offset="0.622" stop-color="#3a548c"/><stop offset="0.661" stop-color="#38588c"/><stop offset="0.694" stop-color="#30698e"/><stop offset="0.717" stop-color="#26828e"/><stop offset="0.733" stop-color="#1e9d89"/><stop offset="0.744" stop-color="#23a983"/><stop offset="0.750" stop-color="#22a884"/><stop offset="0.761" stop-color="#1f998a"/><stop offset="0.789" stop-color="#2f6c8e"/><stop offset="0.817" stop-color="#3b518b"/><stop offset="0.867" stop-color="#453882"/><stop offset="0.939" stop-color="#482878"/><stop offset="1.000" stop-color="#482071"/></linearGradient><linearGradient id="g49" x1="0" y1="0" x2="0" y2="1"><stop offset="0.000" stop-color="#471164"/><stop offset="0.283" stop-color="#481d6f"/><stop offset="0.417" stop-color="#472f7d"/><stop offset="0.478" stop-color="#414287"/><stop offset="0.517" stop-color="#375a8c"/><stop offset="0.561" stop-color="#26818e"/><stop offset="0.583" stop-color="#27808e"/><stop offset="0.628" stop-color="#32648e"/><stop offset="0.661" stop-color="#355e8d"/><stop offset="0.694" stop-color="#31688e"/><stop offset="0.717" stop-color="#287c8e"/><stop offset="0.739" stop-color="#1e9d89"/><stop offset="0.750" stop-color="#23a983"/><stop offset="0.761" stop-color="#20a486"/><stop offset="0.772" stop-color="#20928c"/><stop offset="0.794" stop-color="#2e6f8e"/><stop offset="0.822" stop-color="#3a538b"/><stop offset="0.867" stop-color="#443b84"/><stop offset="0.967" stop-color="#482576"/><stop offset="1.000" stop-color="#482173"/></linearGradient><linearGradient id="g50" x1="0" y1="0" x2="0" y2="1"><stop offset="0.000" stop-color="#471063"/><stop offset="0.317" stop-color="#481d6f"/><stop offset="0.456" stop-color="#46307e"/><stop offset="0.522" stop-color="#3f4788"/><stop offset="0.567" stop-color="#31678e"/><stop offset="0.594" stop-color="#26818e"/><stop offset="0.617" stop-color="#25848e"/><stop offset="0.661" stop-color="#2e6e8e"/><stop offset="0.683" stop-color="#2e6d8e"/><stop offset="0.711" stop-color="#297b8e"/><stop offset="0.733" stop-color="#1f978b"/><stop offset="0.744" stop-color="#22a785"/><stop offset="0.756" stop-color="#25ac82"/><stop offset="0.772" stop-color="#1f948c"/><stop offset="0.794" stop-color="#2d708e"/><stop offset="0.828" stop-color="#3c508b"/><stop offset="0.878" stop-color="#443983"/><stop offset="0.928" stop-color="#472d7b"/><stop offset="1.000" stop-color="#482374"/></linearGradient><linearGradient id="g51" x1="0" y1="0" x2="0" y2="1"><stop offset="0.000" stop-color="#471063"/><stop offset="0.267" stop-color="#48186a"/><stop offset="0.428" stop-color="#482677"/><stop offset="0.522" stop-color="#443b84"/><stop offset="0.572" stop-color="#3a538b"/><stop offset="0.633" stop-color="#23888e"/><stop offset="0.650" stop-color="#238a8d"/><stop offset="0.689" stop-color="#27808e"/><stop offset="0.711" stop-color="#23888e"/><stop offset="0.728" stop-color="#1e9b8a"/><stop offset="0.739" stop-color="#25ab82"/><stop offset="0.750" stop-color="#2ab07f"/><stop offset="0.761" stop-color="#21a585"/><stop offset="0.767" stop-color="#1e9c89"/><stop offset="0.789" stop-color="#2b758e"/><stop offset="0.817" stop-color="#38598c"/><stop offset="0.856" stop-color="#424186"/><stop offset="0.922" stop-color="#472e7c"/><stop offset="1.000" stop-color="#482374"/></linearGradient><linearGradient id="g52" x1="0" y1="0" x2="0" y2="1"><stop offset="0.000" stop-color="#481a6c"/><stop offset="0.211" stop-color="#482878"/><stop offset="0.333" stop-color="#443b84"/><stop offset="0.411" stop-color="#3a548c"/><stop offset="0.461" stop-color="#2c738e"/><stop offset="0.489" stop-color="#21918c"/><stop offset="0.500" stop-color="#1fa187"/><stop offset="0.506" stop-color="#25ac82"/><stop offset="0.511" stop-color="#32b67a"/><stop offset="0.522" stop-color="#63cb5f"/><stop offset="0.539" stop-color="#cae11f"/><stop offset="0.544" stop-color="#e7e419"/><stop offset="0.550" stop-color="#f8e621"/><stop offset="0.556" stop-color="#fde725"/><stop offset="0.561" stop-color="#f8e621"/><stop offset="0.567" stop-color="#e7e419"/><stop offset="0.572" stop-color="#cae11f"/><stop offset="0.589" stop-color="#63cb5f"/><stop offset="0.600" stop-color="#32b67a"/><stop offset="0.606" stop-color="#25ac82"/><stop offset="0.611" stop-color="#1fa187"/><stop offset="0.639" stop-color="#277e8e"/><stop offset="0.678" stop-color="#34608d"/><stop offset="0.733" stop-color="#3f4788"/><stop offset="0.844" stop-color="#472f7d"/><stop offset="0.994" stop-color="#482071"/><stop offset="1.000" stop-color="#482071"/></linearGradient><linearGradient id="g53" x1="0" y1="0" x2="0" y2="1"><stop offset="0.000" stop-color="#481668"/><stop offset="0.211" stop-color="#482173"/><stop offset="0.350" stop-color="#453581"/><stop offset="0.422" stop-color="#3d4e8a"/><stop offset="0.472" stop-color="#2c728e"/><stop offset="0.506" stop-color="#1f948c"/><stop offset="0.522" stop-color="#1f978b"/><stop offset="0.561" stop-color="#218f8d"/><stop offset="0.583" stop-color="#1f998a"/><stop offset="0.600" stop-color="#25ac82"/><stop offset="0.617" stop-color="#44bf70"/><stop offset="0.622" stop-color="#4ac16d"/><stop offset="0.628" stop-color="#48c16e"/><stop offset="0.644" stop-color="#26ad81"/><stop offset="0.656" stop-color="#1f998a"/><stop offset="0.683" stop-color="#2c728e"/><stop offset="0.722" stop-color="#3a548c"/><stop offset="0.783" stop-color="#443b84"/><stop offset="0.872" stop-color="#472a7a"/><stop offset="0.989" stop-color="#481f70"/><stop offset="1.000" stop-color="#481d6f"/></linearGradient><linearGradient id="g54" x1="0" y1="0" x2="0" y2="1"><stop offset="0.000" stop-color="#481467"/><stop offset="0.233" stop-color="#482071"/><stop offset="0.356" stop-color="#46327e"/><stop offset="0.417" stop-color="#414487"/><stop offset="0.456" stop-color="#375b8d"/><stop offset="0.506" stop-color="#24868e"/><stop offset="0.522" stop-color="#23888e"/><stop offset="0.567" stop-color="#2d708e"/><stop offset="0.600" stop-color="#2d708e"/><stop offset="0.622" stop-color="#297a8e"/><stop offset="0.644" stop-color="#21918c"/><stop offset="0.661" stop-color="#21a685"/><stop offset="0.672" stop-color="#29af7f"/><stop offset="0.683" stop-color="#25ab82"/><stop offset="0.694" stop-color="#1e9d89"/><stop offset="0.722" stop-color="#2b748e"/><stop offset="0.761" stop-color="#3b528b"/><stop offset="0.822" stop-color="#443983"/><stop offset="0.900" stop-color="#482979"/><stop offset="1.000" stop-color="#481f70"/></linearGradient><linearGradient id="g55" x1="0" y1="0" x2="0" y2="1"><stop offset="0.000" stop-color="#471365"/><stop offset="0.239" stop-color="#481d6f"/><stop offset="0.356" stop-color="#472d7b"/><stop offset="0.411" stop-color="#443a83"/><stop offset="0.461" stop-color="#3a548c"/><stop offset="0.511" stop-color="#277e8e"/><stop offset="0.522" stop-color="#27808e"/><stop offset="0.578" stop-color="#355f8d"/><stop offset="0.622" stop-color="#375a8c"/><stop offset="0.656" stop-color="#31668e"/><stop offset="0.678" stop-color="#2a778e"/><stop offset="0.711" stop-color="#1e9d89"/><stop offset="0.722" stop-color="#1f9f88"/><stop offset="0.739" stop-color="#228d8d"/><stop offset="0.772" stop-color="#33638d"/><stop offset="0.811" stop-color="#3f4788"/><stop offset="0.878" stop-color="#46307e"/><stop offset="0.994" stop-color="#482071"/><stop offset="1.000" stop-color="#482071"/></linearGradient><linearGradient id="g56" x1="0" y1="0" x2="0" y2="1"><stop offset="0.000" stop-color="#471063"/><stop offset="0.289" stop-color="#481d6f"/><stop offset="0.411" stop-color="#46307e"/><stop offset="0.467" stop-color="#3f4889"/><stop offset="0.522" stop-color="#2c728e"/><stop offset="0.544" stop-color="#2d718e"/><stop offset="0.594" stop-color="#3b528b"/><stop offset="0.639" stop-color="#3e4c8a"/><stop offset="0.683" stop-color="#39568c"/><stop offset="0.711" stop-color="#30698e"/><stop offset="0.750" stop-color="#21918c"/><stop offset="0.761" stop-color="#218f8d"/><stop offset="0.811" stop-color="#38588c"/><stop offset="0.833" stop-color="#3f4788"/><stop offset="0.889" stop-color="#46327e"/><stop offset="0.989" stop-color="#482071"/><stop offset="1.000" stop-color="#482071"/></linearGradient><linearGradient id="g57" x1="0" y1="0" x2="0" y2="1"><stop offset="0.000" stop-color="#470e61"/><stop offset="0.289" stop-color="#481a6c"/><stop offset="0.400" stop-color="#482677"/><stop offset="0.478" stop-color="#443b84"/><stop offset="0.522" stop-color="#38598c"/><stop offset="0.550" stop-color="#2e6d8e"/><stop offset="0.567" stop-color="#2f6c8e"/><stop offset="0.611" stop-color="#3b518b"/><stop offset="0.644" stop-color="#3f4788"/><stop offset="0.694" stop-color="#3e4a89"/><stop offset="0.728" stop-color="#375a8c"/><stop offset="0.772" stop-color="#26828e"/><stop offset="0.783" stop-color="#24868e"/><stop offset="0.800" stop-color="#297a8e"/><stop offset="0.833" stop-color="#39558c"/><stop offset="0.878" stop-color="#443a83"/><stop offset="0.939" stop-color="#482979"/><stop offset="1.000" stop-color="#482071"/></linearGradient><linearGradient id="g58" x1="0" y1="0" x2="0" y2="1"><stop offset="0.000" stop-color="#470e61"/><stop offset="0.294" stop-color="#48186a"/><stop offset="0.433" stop-color="#482677"/><stop offset="0.506" stop-color="#443a83"/><stop offset="0.550" stop-color="#39558c"/><stop offset="0.583" stop-color="#2e6f8e"/><stop offset="0.600" stop-color="#2e6e8e"/><stop offset="0.650" stop-color="#3b518b"/><stop offset="0.689" stop-color="#3e4c8a"/><stop offset="0.728" stop-color="#39558c"/><stop offset="0.761" stop-color="#2e6d8e"/><stop offset="0.789" stop-color="#24868e"/><stop offset="0.800" stop-color="#24868e"/><stop offset="0.856" stop-color="#3c4f8a"/><stop offset="0.894" stop-color="#443983"/><stop offset="0.972" stop-color="#482576"/><stop offset="1.000" stop-color="#482173"/></linearGradient><linearGradient id="g59" x1="0" y1="0" x2="0" y2="1"><stop offset="0.000" stop-color="#460b5e"/><stop offset="0.322" stop-color="#481668"/><stop offset="0.456" stop-color="#482173"/><stop offset="0.544" stop-color="#453581"/><stop offset="0.589" stop-color="#3d4d8a"/><stop offset="0.628" stop-color="#306a8e"/><stop offset="0.650" stop-color="#31688e"/><stop offset="0.694" stop-color="#39568c"/><stop offset="0.722" stop-color="#38598c"/><stop offset="0.750" stop-color="#31688e"/><stop offset="0.778" stop-color="#287c8e"/><stop offset="0.789" stop-color="#297a8e"/><stop offset="0.844" stop-color="#3f4788"/><stop offset="0.883" stop-color="#463480"/><stop offset="0.956" stop-color="#482374"/><stop offset="1.000" stop-color="#481d6f"/></linearGradient><linearGradient id="cbar" x1="0" y1="0" x2="0" y2="1"><stop offset="0.000" stop-color="#fde725"/><stop offset="0.016" stop-color="#f4e61e"/><stop offset="0.032" stop-color="#eae51a"/><stop offset="0.048" stop-color="#dfe318"/><stop offset="0.063" stop-color="#d5e21a"/><stop offset="0.079" stop-color="#cae11f"/><stop offset="0.095" stop-color="#c0df25"/><stop offset="0.111" stop-color="#b5de2b"/><stop offset="0.127" stop-color="#aadc32"/><stop offset="0.143" stop-color="#a0da39"/><stop offset="0.159" stop-color="#95d840"/><stop offset="0.175" stop-color="#8bd646"/><stop offset="0.190" stop-color="#81d34d"/><stop offset="0.206" stop-color="#77d153"/><stop offset="0.222" stop-color="#6ece58"/><stop offset="0.238" stop-color="#65cb5e"/><stop offset="0.254" stop-color="#5ac864"/><stop offset="0.270" stop-color="#52c569"/><stop offset="0.286" stop-color="#4ac16d"/><stop offset="0.302" stop-color="#42be71"/><stop offset="0.317" stop-color="#3bbb75"/><stop offset="0.333" stop-color="#35b779"/><stop offset="0.349" stop-color="#2fb47c"/><stop offset="0.365" stop-color="#2ab07f"/><stop offset="0.381" stop-color="#26ad81"/><stop offset="0.397" stop-color="#23a983"/><stop offset="0.413" stop-color="#21a585"/><stop offset="0.429" stop-color="#1fa187"/><stop offset="0.444" stop-color="#1f9e89"/><stop offset="0.460" stop-color="#1f9a8a"/><stop offset="0.476" stop-color="#1f968b"/><stop offset="0.492" stop-color="#20928c"/><stop offset="0.508" stop-color="#218e8d"/><stop offset="0.524" stop-color="#238a8d"/><stop offset="0.540" stop-color="#24868e"/><stop offset="0.556" stop-color="#26828e"/><stop offset="0.571" stop-color="#277f8e"/><stop offset="0.587" stop-color="#297b8e"/><stop offset="0.603" stop-color="#2a778e"/><stop offset="0.619" stop-color="#2c738e"/><stop offset="0.635" stop-color="#2d708e"/><stop offset="0.651" stop-color="#2f6c8e"/><stop offset="0.667" stop-color="#31688e"/><stop offset="0.683" stop-color="#32648e"/><stop offset="0.698" stop-color="#34608d"/><stop offset="0.714" stop-color="#365c8d"/><stop offset="0.730" stop-color="#38588c"/><stop offset="0.746" stop-color="#3a538b"/><stop offset="0.762" stop-color="#3d4e8a"/><stop offset="0.778" stop-color="#3e4989"/><stop offset="0.794" stop-color="#404588"/><stop offset="0.810" stop-color="#424086"/><stop offset="0.825" stop-color="#443b84"/><stop offset="0.841" stop-color="#453781"/><stop offset="0.857" stop-color="#46327e"/><stop offset="0.873" stop-color="#472d7b"/><stop offset="0.889" stop-color="#482878"/><stop offset="0.905" stop-color="#482374"/><stop offset="0.921" stop-color="#481d6f"/><stop offset="0.937" stop-color="#48186a"/><stop offset="0.952" stop-color="#471365"/><stop offset="0.968" stop-color="#470d60"/><stop offset="0.984" stop-color="#46075a"/><stop offset="1.000" stop-color="#440154"/></linearGradient><clipPath id="clipc"><rect x="49.5" y="201.9" width="151.7" height="108.49999999999997"/></clipPath><clipPath id="clipm"><rect x="291.4" y="296" width="394" height="83"/></clipPath><clipPath id="clipq"><rect x="291.4" y="385" width="394" height="83.2"/></clipPath></defs>
<rect x="49.50" y="6.7" width="2.23" height="156.60000000000002" fill="url(#g1)"/>
<rect x="50.93" y="6.7" width="3.65" height="156.60000000000002" fill="url(#g2)"/>
<rect x="53.78" y="6.7" width="3.65" height="156.60000000000002" fill="url(#g3)"/>
<rect x="56.63" y="6.7" width="3.65" height="156.60000000000002" fill="url(#g4)"/>
<rect x="59.48" y="6.7" width="3.65" height="156.60000000000002" fill="url(#g5)"/>
<rect x="62.33" y="6.7" width="3.65" height="156.60000000000002" fill="url(#g6)"/>
<rect x="65.18" y="6.7" width="3.65" height="156.60000000000002" fill="url(#g7)"/>
<rect x="68.03" y="6.7" width="3.65" height="156.60000000000002" fill="url(#g8)"/>
<rect x="70.89" y="6.7" width="3.65" height="156.60000000000002" fill="url(#g9)"/>
<rect x="73.74" y="6.7" width="3.65" height="156.60000000000002" fill="url(#g10)"/>
<rect x="76.59" y="6.7" width="3.65" height="156.60000000000002" fill="url(#g11)"/>
<rect x="79.44" y="6.7" width="3.65" height="156.60000000000002" fill="url(#g12)"/>
<rect x="82.29" y="6.7" width="3.65" height="156.60000000000002" fill="url(#g13)"/>
<rect x="85.14" y="6.7" width="3.65" height="156.60000000000002" fill="url(#g14)"/>
<rect x="87.99" y="6.7" width="3.65" height="156.60000000000002" fill="url(#g15)"/>
<rect x="90.85" y="6.7" width="3.65" height="156.60000000000002" fill="url(#g16)"/>
<rect x="93.70" y="6.7" width="3.65" height="156.60000000000002" fill="url(#g17)"/>
<rect x="96.55" y="6.7" width="3.65" height="156.60000000000002" fill="url(#g18)"/>
<rect x="99.40" y="6.7" width="3.65" height="156.60000000000002" fill="url(#g19)"/>
<rect x="102.25" y="6.7" width="3.65" height="156.60000000000002" fill="url(#g20)"/>
<rect x="105.10" y="6.7" width="3.65" height="156.60000000000002" fill="url(#g21)"/>
<rect x="107.95" y="6.7" width="3.65" height="156.60000000000002" fill="url(#g22)"/>
<rect x="110.81" y="6.7" width="3.65" height="156.60000000000002" fill="url(#g23)"/>
<rect x="113.66" y="6.7" width="3.65" height="156.60000000000002" fill="url(#g24)"/>
<rect x="116.51" y="6.7" width="3.65" height="156.60000000000002" fill="url(#g25)"/>
<rect x="119.36" y="6.7" width="3.65" height="156.60000000000002" fill="url(#g26)"/>
<rect x="122.21" y="6.7" width="3.65" height="156.60000000000002" fill="url(#g27)"/>
<rect x="125.06" y="6.7" width="3.65" height="156.60000000000002" fill="url(#g28)"/>
<rect x="127.91" y="6.7" width="3.65" height="156.60000000000002" fill="url(#g29)"/>
<rect x="130.77" y="6.7" width="3.65" height="156.60000000000002" fill="url(#g30)"/>
<rect x="133.62" y="6.7" width="3.65" height="156.60000000000002" fill="url(#g31)"/>
<rect x="136.47" y="6.7" width="3.65" height="156.60000000000002" fill="url(#g32)"/>
<rect x="139.32" y="6.7" width="3.65" height="156.60000000000002" fill="url(#g33)"/>
<rect x="142.17" y="6.7" width="3.65" height="156.60000000000002" fill="url(#g34)"/>
<rect x="145.02" y="6.7" width="3.65" height="156.60000000000002" fill="url(#g35)"/>
<rect x="147.87" y="6.7" width="1.43" height="156.60000000000002" fill="url(#g36)"/>
<rect x="194.30" y="6.7" width="4.36" height="156.60000000000002" fill="url(#g37)"/>
<rect x="197.86" y="6.7" width="7.93" height="156.60000000000002" fill="url(#g38)"/>
<rect x="204.99" y="6.7" width="7.93" height="156.60000000000002" fill="url(#g39)"/>
<rect x="212.12" y="6.7" width="7.93" height="156.60000000000002" fill="url(#g40)"/>
<rect x="219.25" y="6.7" width="7.93" height="156.60000000000002" fill="url(#g41)"/>
<rect x="226.38" y="6.7" width="7.93" height="156.60000000000002" fill="url(#g42)"/>
<rect x="233.51" y="6.7" width="7.93" height="156.60000000000002" fill="url(#g43)"/>
<rect x="240.64" y="6.7" width="7.93" height="156.60000000000002" fill="url(#g44)"/>
<rect x="247.76" y="6.7" width="7.93" height="156.60000000000002" fill="url(#g45)"/>
<rect x="254.89" y="6.7" width="7.93" height="156.60000000000002" fill="url(#g46)"/>
<rect x="262.02" y="6.7" width="7.93" height="156.60000000000002" fill="url(#g47)"/>
<rect x="269.15" y="6.7" width="7.93" height="156.60000000000002" fill="url(#g48)"/>
<rect x="276.28" y="6.7" width="7.93" height="156.60000000000002" fill="url(#g49)"/>
<rect x="283.41" y="6.7" width="7.93" height="156.60000000000002" fill="url(#g50)"/>
<rect x="290.54" y="6.7" width="3.56" height="156.60000000000002" fill="url(#g51)"/>
<rect x="339.20" y="6.7" width="7.92" height="156.60000000000002" fill="url(#g52)"/>
<rect x="346.32" y="6.7" width="15.04" height="156.60000000000002" fill="url(#g53)"/>
<rect x="360.56" y="6.7" width="15.04" height="156.60000000000002" fill="url(#g54)"/>
<rect x="374.81" y="6.7" width="15.04" height="156.60000000000002" fill="url(#g55)"/>
<rect x="389.05" y="6.7" width="15.04" height="156.60000000000002" fill="url(#g56)"/>
<rect x="403.29" y="6.7" width="15.04" height="156.60000000000002" fill="url(#g57)"/>
<rect x="417.54" y="6.7" width="15.04" height="156.60000000000002" fill="url(#g58)"/>
<rect x="431.78" y="6.7" width="7.12" height="156.60000000000002" fill="url(#g59)"/>
<rect x="49.5" y="6.7" width="99.80" height="156.60000000000002" fill="none" stroke="#000" stroke-width="1"/>
<line x1="49.5" y1="163.3" x2="49.5" y2="165.9" stroke="#000" stroke-width="1"/>
<line x1="63.76" y1="163.3" x2="63.76" y2="165.9" stroke="#000" stroke-width="1"/>
<line x1="78.01" y1="163.3" x2="78.01" y2="165.9" stroke="#000" stroke-width="1"/>
<line x1="92.27" y1="163.3" x2="92.27" y2="167.8" stroke="#000" stroke-width="1"/>
<line x1="106.53" y1="163.3" x2="106.53" y2="165.9" stroke="#000" stroke-width="1"/>
<line x1="120.79" y1="163.3" x2="120.79" y2="165.9" stroke="#000" stroke-width="1"/>
<line x1="135.04" y1="163.3" x2="135.04" y2="165.9" stroke="#000" stroke-width="1"/>
<line x1="149.3" y1="163.3" x2="149.3" y2="167.8" stroke="#000" stroke-width="1"/>
<text x="92.57" y="181.15" font-size="11.3" text-anchor="middle">−8</text>
<text x="149.6" y="181.15" font-size="11.3" text-anchor="middle">−6</text>
<line x1="46.9" y1="163.3" x2="49.5" y2="163.3" stroke="#000" stroke-width="1"/>
<line x1="45" y1="145.9" x2="49.5" y2="145.9" stroke="#000" stroke-width="1"/>
<line x1="46.9" y1="128.5" x2="49.5" y2="128.5" stroke="#000" stroke-width="1"/>
<line x1="46.9" y1="111.1" x2="49.5" y2="111.1" stroke="#000" stroke-width="1"/>
<line x1="46.9" y1="93.7" x2="49.5" y2="93.7" stroke="#000" stroke-width="1"/>
<line x1="45" y1="76.3" x2="49.5" y2="76.3" stroke="#000" stroke-width="1"/>
<line x1="46.9" y1="58.9" x2="49.5" y2="58.9" stroke="#000" stroke-width="1"/>
<line x1="46.9" y1="41.5" x2="49.5" y2="41.5" stroke="#000" stroke-width="1"/>
<line x1="46.9" y1="24.1" x2="49.5" y2="24.1" stroke="#000" stroke-width="1"/>
<line x1="45" y1="6.7" x2="49.5" y2="6.7" stroke="#000" stroke-width="1"/>
<rect x="194.3" y="6.7" width="99.80" height="156.60000000000002" fill="none" stroke="#000" stroke-width="1"/>
<line x1="194.3" y1="163.3" x2="194.3" y2="165.9" stroke="#000" stroke-width="1"/>
<line x1="208.56" y1="163.3" x2="208.56" y2="165.9" stroke="#000" stroke-width="1"/>
<line x1="222.81" y1="163.3" x2="222.81" y2="165.9" stroke="#000" stroke-width="1"/>
<line x1="237.07" y1="163.3" x2="237.07" y2="167.8" stroke="#000" stroke-width="1"/>
<line x1="251.33" y1="163.3" x2="251.33" y2="165.9" stroke="#000" stroke-width="1"/>
<line x1="265.59" y1="163.3" x2="265.59" y2="165.9" stroke="#000" stroke-width="1"/>
<line x1="279.84" y1="163.3" x2="279.84" y2="165.9" stroke="#000" stroke-width="1"/>
<line x1="294.1" y1="163.3" x2="294.1" y2="167.8" stroke="#000" stroke-width="1"/>
<text x="237.37" y="181.15" font-size="11.3" text-anchor="middle">−8</text>
<text x="294.4" y="181.15" font-size="11.3" text-anchor="middle">−6</text>
<line x1="191.7" y1="163.3" x2="194.3" y2="163.3" stroke="#000" stroke-width="1"/>
<line x1="189.8" y1="145.9" x2="194.3" y2="145.9" stroke="#000" stroke-width="1"/>
<line x1="191.7" y1="128.5" x2="194.3" y2="128.5" stroke="#000" stroke-width="1"/>
<line x1="191.7" y1="111.1" x2="194.3" y2="111.1" stroke="#000" stroke-width="1"/>
<line x1="191.7" y1="93.7" x2="194.3" y2="93.7" stroke="#000" stroke-width="1"/>
<line x1="189.8" y1="76.3" x2="194.3" y2="76.3" stroke="#000" stroke-width="1"/>
<line x1="191.7" y1="58.9" x2="194.3" y2="58.9" stroke="#000" stroke-width="1"/>
<line x1="191.7" y1="41.5" x2="194.3" y2="41.5" stroke="#000" stroke-width="1"/>
<line x1="191.7" y1="24.1" x2="194.3" y2="24.1" stroke="#000" stroke-width="1"/>
<line x1="189.8" y1="6.7" x2="194.3" y2="6.7" stroke="#000" stroke-width="1"/>
<rect x="339.2" y="6.7" width="99.70" height="156.60000000000002" fill="none" stroke="#000" stroke-width="1"/>
<line x1="339.2" y1="163.3" x2="339.2" y2="165.9" stroke="#000" stroke-width="1"/>
<line x1="353.44" y1="163.3" x2="353.44" y2="165.9" stroke="#000" stroke-width="1"/>
<line x1="367.69" y1="163.3" x2="367.69" y2="165.9" stroke="#000" stroke-width="1"/>
<line x1="381.93" y1="163.3" x2="381.93" y2="167.8" stroke="#000" stroke-width="1"/>
<line x1="396.17" y1="163.3" x2="396.17" y2="165.9" stroke="#000" stroke-width="1"/>
<line x1="410.41" y1="163.3" x2="410.41" y2="165.9" stroke="#000" stroke-width="1"/>
<line x1="424.66" y1="163.3" x2="424.66" y2="165.9" stroke="#000" stroke-width="1"/>
<line x1="438.9" y1="163.3" x2="438.9" y2="167.8" stroke="#000" stroke-width="1"/>
<text x="382.23" y="181.15" font-size="11.3" text-anchor="middle">−8</text>
<text x="439.2" y="181.15" font-size="11.3" text-anchor="middle">−6</text>
<line x1="336.6" y1="163.3" x2="339.2" y2="163.3" stroke="#000" stroke-width="1"/>
<line x1="334.7" y1="145.9" x2="339.2" y2="145.9" stroke="#000" stroke-width="1"/>
<line x1="336.6" y1="128.5" x2="339.2" y2="128.5" stroke="#000" stroke-width="1"/>
<line x1="336.6" y1="111.1" x2="339.2" y2="111.1" stroke="#000" stroke-width="1"/>
<line x1="336.6" y1="93.7" x2="339.2" y2="93.7" stroke="#000" stroke-width="1"/>
<line x1="334.7" y1="76.3" x2="339.2" y2="76.3" stroke="#000" stroke-width="1"/>
<line x1="336.6" y1="58.9" x2="339.2" y2="58.9" stroke="#000" stroke-width="1"/>
<line x1="336.6" y1="41.5" x2="339.2" y2="41.5" stroke="#000" stroke-width="1"/>
<line x1="336.6" y1="24.1" x2="339.2" y2="24.1" stroke="#000" stroke-width="1"/>
<line x1="334.7" y1="6.7" x2="339.2" y2="6.7" stroke="#000" stroke-width="1"/>
<text x="39.5" y="10.75" font-size="11.3" text-anchor="end">11.6</text>
<text x="39.5" y="80.35" font-size="11.3" text-anchor="end">11.2</text>
<text x="39.5" y="149.95" font-size="11.3" text-anchor="end">10.8</text>
<text transform="translate(12.6,84.8) rotate(-90)" font-size="11.3" text-anchor="middle"><tspan font-style="italic">f</tspan> (MHz)</text>
<text x="244" y="193.6" font-size="11.3" text-anchor="middle"><tspan font-style="italic">V</tspan><tspan font-size="8" dy="2">dc</tspan><tspan dy="-2"> (V)</tspan></text>
<circle cx="132.9" cy="21.8" r="6" fill="none" stroke="#fff" stroke-width="3.5"/>
<rect x="272.6" y="16.6" width="9.8" height="9.8" fill="none" stroke="#fff" stroke-width="3.3"/>
<path d="M418.4,14 L424.2,23 L418.4,32.1 L412.6,23 Z" fill="none" stroke="#fff" stroke-width="3.2" stroke-linejoin="miter"/>
<path d="M70.5,35.9 Q85,36.5 96,44.5" fill="none" stroke="#fff" stroke-width="2" stroke-linecap="round"/>
<path d="M99.8,47.2 L96.5,40.2 L92.2,45.6 Z" fill="#fff"/>
<path d="M134,133.4 Q119,131 109,123" fill="none" stroke="#fff" stroke-width="2" stroke-linecap="round"/>
<path d="M105.6,120.5 L113.2,122.2 L108.4,127.6 Z" fill="#fff"/>
<rect x="455.5" y="6.5" width="7.3" height="37" fill="url(#cbar)" stroke="#000" stroke-width="1"/>
<line x1="462.8" y1="6.5" x2="467.5" y2="6.5" stroke="#000" stroke-width="1"/>
<line x1="462.8" y1="43.5" x2="467.5" y2="43.5" stroke="#000" stroke-width="1"/>
<text x="473.8" y="10.85" font-size="11.3">1</text>
<text x="473.8" y="47.55" font-size="11.3">0</text>
<text transform="translate(462,101.5) rotate(-90)" font-size="11.3" text-anchor="middle">Amplitude (arb. units)</text>
<text x="-0.6" y="12.8" font-size="16" font-weight="bold">a</text>
<text x="494.5" y="12.4" font-size="16" font-weight="bold">b</text>
<text x="0.2" y="211.8" font-size="16" font-weight="bold">c</text>
<text x="0.1" y="371.9" font-size="16" font-weight="bold">d</text>
<text x="236.3" y="218.4" font-size="16" font-weight="bold">e</text>
<rect x="504.9" y="33" width="20.6" height="19.2" fill="#a9c8e8"/>
<rect x="666" y="33" width="19" height="19.2" fill="#a9c8e8"/>
<path d="M526,31 Q596,57 666,31 Q596,93 526,31 Z" fill="#d9e0ef"/>
<path d="M526,31 Q596,78 666,31" fill="none" stroke="#4f72b8" stroke-width="1.2" stroke-dasharray="3,2"/>
<line x1="525.8" y1="30" x2="525.8" y2="52.2" stroke="#555" stroke-width="1.2"/>
<line x1="665.9" y1="30" x2="665.9" y2="52.2" stroke="#555" stroke-width="1.2"/>
<line x1="525.8" y1="25.5" x2="525.8" y2="28" stroke="#888" stroke-width="0.8"/>
<line x1="665.9" y1="25.5" x2="665.9" y2="28" stroke="#888" stroke-width="0.8"/>
<line x1="531" y1="30.7" x2="661" y2="30.7" stroke="#1c2f73" stroke-width="1.5"/>
<path d="M526.3,30.7 L533.5,27.6 L533.5,33.8 Z" fill="#1c2f73"/>
<path d="M665.6,30.7 L658.4,27.6 L658.4,33.8 Z" fill="#1c2f73"/>
<text x="599.6" y="29.2" font-size="13" font-weight="bold" font-style="italic" text-anchor="middle">D</text>
<line x1="596" y1="48.5" x2="596" y2="59.5" stroke="#c00000" stroke-width="1.5"/>
<path d="M596,45.6 L593,49.6 L599,49.6 Z" fill="#c00000"/>
<path d="M596,62.4 L593,58.4 L599,58.4 Z" fill="#c00000"/>
<line x1="525.4" y1="107" x2="525.4" y2="139.8" stroke="#000" stroke-width="2.2"/>
<line x1="516.2" y1="114.3" x2="524.8" y2="109.5" stroke="#000" stroke-width="1.9"/>
<line x1="516.2" y1="118.6" x2="524.8" y2="113.8" stroke="#000" stroke-width="1.9"/>
<line x1="516.2" y1="122.5" x2="524.8" y2="117.7" stroke="#000" stroke-width="1.9"/>
<line x1="516.2" y1="126.6" x2="524.8" y2="121.8" stroke="#000" stroke-width="1.9"/>
<line x1="516.2" y1="130.4" x2="524.8" y2="125.6" stroke="#000" stroke-width="1.9"/>
<line x1="516.2" y1="134.2" x2="524.8" y2="129.4" stroke="#000" stroke-width="1.9"/>
<line x1="516.2" y1="138" x2="524.8" y2="133.2" stroke="#000" stroke-width="1.9"/>
<line x1="526.4" y1="124.8" x2="556" y2="124.8" stroke="#c83030" stroke-width="1.4"/>
<line x1="635.2" y1="124.6" x2="661" y2="124.6" stroke="#c83030" stroke-width="1.4"/>
<path d="M567.3,112 L556,112 L556,137.6 L597,137.6 M608.5,137.6 L635.2,137.6 L635.2,112 L619.3,112" fill="none" stroke="#c00000" stroke-width="2"/>
<polyline points="567.3,112 567.43,111.46 567.56,110.92 567.69,110.38 567.82,109.85 567.95,109.34 568.08,108.84 568.21,108.36 568.34,107.9 568.47,107.47 568.6,107.06 568.73,106.68 568.86,106.33 568.99,106.01 569.12,105.72 569.25,105.47 569.38,105.26 569.51,105.09 569.64,104.96 569.77,104.86 569.9,104.81 570.03,104.8 570.16,104.84 570.29,104.94 570.42,105.09 570.55,105.3 570.68,105.56 570.81,105.88 570.94,106.24 571.07,106.64 571.2,107.09 571.33,107.58 571.46,108.1 571.59,108.65 571.72,109.23 571.85,109.83 571.98,110.45 572.11,111.09 572.24,111.73 572.37,112.37 572.5,113.01 572.63,113.65 572.76,114.27 572.89,114.88 573.02,115.46 573.15,116.02 573.28,116.55 573.41,117.04 573.54,117.49 573.67,117.91 573.8,118.27 573.93,118.59 574.06,118.86 574.19,119.08 574.32,119.24 574.45,119.35 574.58,119.4 574.71,119.39 574.84,119.33 574.97,119.21 575.1,119.03 575.23,118.8 575.36,118.52 575.49,118.19 575.62,117.81 575.75,117.39 575.88,116.93 576.01,116.43 576.14,115.89 576.27,115.33 576.4,114.74 576.53,114.13 576.66,113.5 576.79,112.87 576.92,112.22 577.05,111.58 577.18,110.94 577.31,110.31 577.44,109.69 577.57,109.1 577.7,108.52 577.83,107.98 577.96,107.46 578.09,106.98 578.22,106.54 578.35,106.15 578.48,105.8 578.61,105.5 578.74,105.25 578.87,105.05 579,104.91 579.13,104.83 579.26,104.8 579.39,104.83 579.52,104.91 579.65,105.05 579.78,105.25 579.91,105.5 580.04,105.8 580.17,106.15 580.3,106.54 580.43,106.98 580.56,107.46 580.69,107.98 580.82,108.52 580.95,109.1 581.08,109.69 581.21,110.31 581.34,110.94 581.47,111.58 581.6,112.22 581.73,112.87 581.86,113.5 581.99,114.13 582.12,114.74 582.25,115.33 582.38,115.89 582.51,116.43 582.64,116.93 582.77,117.39 582.9,117.81 583.03,118.19 583.16,118.52 583.29,118.8 583.42,119.03 583.55,119.21 583.68,119.33 583.81,119.39 583.94,119.4 584.07,119.35 584.2,119.24 584.33,119.08 584.46,118.86 584.59,118.59 584.72,118.27 584.85,117.91 584.98,117.49 585.11,117.04 585.24,116.55 585.37,116.02 585.5,115.46 585.63,114.88 585.76,114.27 585.89,113.65 586.02,113.01 586.15,112.37 586.28,111.73 586.41,111.09 586.54,110.45 586.67,109.83 586.8,109.23 586.93,108.65 587.06,108.1 587.19,107.58 587.32,107.09 587.45,106.64 587.58,106.24 587.71,105.88 587.84,105.56 587.97,105.3 588.1,105.09 588.23,104.94 588.36,104.84 588.49,104.8 588.62,104.82 588.75,104.89 588.88,105.02 589.01,105.2 589.14,105.44 589.27,105.73 589.4,106.06 589.53,106.45 589.66,106.88 589.79,107.35 589.92,107.85 590.05,108.39 590.18,108.96 590.31,109.55 590.44,110.17 590.57,110.79 590.7,111.43 590.83,112.08 590.96,112.72 591.09,113.36 591.22,113.99 591.35,114.6 591.48,115.19 591.61,115.76 591.74,116.31 591.87,116.82 592,117.29 592.13,117.72 592.26,118.11 592.39,118.45 592.52,118.74 592.65,118.98 592.78,119.17 592.91,119.3 593.04,119.38 593.17,119.4 593.3,119.36 593.43,119.27 593.56,119.12 593.69,118.92 593.82,118.66 593.95,118.35 594.08,117.99 594.21,117.59 594.34,117.15 594.47,116.66 594.6,116.14 594.73,115.59 594.86,115.01 594.99,114.41 595.12,113.79 595.25,113.16 595.38,112.52 595.51,111.88 595.64,111.24 595.77,110.6 595.9,109.98 596.03,109.37 596.16,108.78 596.29,108.22 596.42,107.69 596.55,107.2 596.68,106.74 596.81,106.32 596.94,105.95 597.07,105.63 597.2,105.36 597.33,105.14 597.46,104.97 597.59,104.86 597.72,104.81 597.85,104.81 597.98,104.87 598.11,104.98 598.24,105.15 598.37,105.38 598.5,105.65 598.63,105.98 598.76,106.36 598.89,106.77 599.02,107.24 599.15,107.73 599.28,108.27 599.41,108.83 599.54,109.42 599.67,110.02 599.8,110.65 599.93,111.28 600.06,111.93 600.19,112.57 600.32,113.21 600.45,113.84 600.58,114.46 600.71,115.06 600.84,115.64 600.97,116.18 601.1,116.7 601.23,117.18 601.36,117.62 601.49,118.02 601.62,118.38 601.75,118.68 601.88,118.93 602.01,119.13 602.14,119.28 602.27,119.37 602.4,119.4 602.53,119.38 602.66,119.3 602.79,119.16 602.92,118.97 603.05,118.72 603.18,118.43 603.31,118.08 603.44,117.69 603.57,117.25 603.7,116.78 603.83,116.27 603.96,115.72 604.09,115.15 604.22,114.55 604.35,113.94 604.48,113.31 604.61,112.67 604.74,112.03 604.87,111.38 605,110.75 605.13,110.12 605.26,109.51 605.39,108.92 605.52,108.35 605.65,107.81 605.78,107.31 605.91,106.84 606.04,106.42 606.17,106.04 606.3,105.7 606.43,105.42 606.56,105.18 606.69,105 606.82,104.88 606.95,104.81 607.08,104.8 607.21,104.85 607.34,104.95 607.47,105.11 607.6,105.32 607.73,105.59 607.86,105.9 607.99,106.26 608.12,106.67 608.25,107.13 608.38,107.62 608.51,108.14 608.64,108.7 608.77,109.28 608.9,109.88 609.03,110.5 609.16,111.14 609.29,111.78 609.42,112.42 609.55,113.06 609.68,113.7 609.81,114.32 609.94,114.92 610.07,115.5 610.2,116.06 610.33,116.58 610.46,117.07 610.59,117.53 610.72,117.94 610.85,118.3 610.98,118.61 611.11,118.88 611.24,119.09 611.37,119.25 611.5,119.35 611.63,119.4 611.76,119.39 611.89,119.32 612.02,119.2 612.15,119.02 612.28,118.78 612.41,118.5 612.54,118.16 612.67,117.78 612.8,117.36 612.93,116.89 613.06,116.39 613.19,115.85 613.32,115.28 613.45,114.69 613.58,114.08 613.71,113.45 613.84,112.82 613.97,112.17 614.1,111.53 614.23,110.89 614.36,110.26 614.49,109.65 614.62,109.05 614.75,108.48 614.88,107.93 615.01,107.42 615.14,106.95 615.27,106.51 615.4,106.12 615.53,105.77 615.66,105.48 615.79,105.23 615.92,105.04 616.05,104.9 616.18,104.82 616.31,104.84 616.44,105.33 616.57,105.81 616.7,106.3 616.83,106.77 616.96,107.24 617.09,107.69 617.22,108.14 617.35,108.56 617.48,108.97 617.61,109.36 617.74,109.73 617.87,110.07 618,110.4 618.13,110.69 618.26,110.96 618.39,111.2 618.52,111.41 618.65,111.59 618.78,111.73 618.91,111.85 619.04,111.93 619.17,111.98 619.3,112" fill="none" stroke="#c00000" stroke-width="1.9" stroke-linejoin="round"/>
<text x="585" y="99.3" font-size="14" font-weight="bold" font-style="italic" fill="#c00000">k</text>
<path d="M588.1,130.5 L605.3,130.5 Q608.6,130.5 608.6,133.8 L608.6,141.5 Q608.6,144.8 605.3,144.8 L588.1,144.8" fill="none" stroke="#c00000" stroke-width="1.9"/>
<line x1="596.9" y1="133.9" x2="596.9" y2="141.6" stroke="#c00000" stroke-width="1.9"/>
<circle cx="663.5" cy="124.3" r="9.5" fill="#c4c4c4"/>
<circle cx="669.5" cy="124.3" r="9.6" fill="#1a1a1a"/>
<text x="669.5" y="112.5" font-size="12.6" font-weight="bold">M</text>
<text x="609.3" y="159.2" font-size="15" font-weight="bold" font-style="italic" fill="#c00000">η<tspan font-size="10" font-style="normal" dy="3.6">s</tspan></text>
<g clip-path="url(#clipc)">
<circle cx="50.1" cy="227" r="2.0" fill="none" stroke="#1f77b4" stroke-width="1.1"/>
<circle cx="54.9" cy="225" r="2.0" fill="none" stroke="#1f77b4" stroke-width="1.1"/>
<circle cx="60" cy="223.1" r="2.0" fill="none" stroke="#1f77b4" stroke-width="1.1"/>
<circle cx="65.4" cy="222.2" r="2.0" fill="none" stroke="#1f77b4" stroke-width="1.1"/>
<circle cx="70.8" cy="221.9" r="2.0" fill="none" stroke="#1f77b4" stroke-width="1.1"/>
<circle cx="76.5" cy="222.2" r="2.0" fill="none" stroke="#1f77b4" stroke-width="1.1"/>
<circle cx="81.9" cy="222.9" r="2.0" fill="none" stroke="#1f77b4" stroke-width="1.1"/>
<circle cx="87.3" cy="223.9" r="2.0" fill="none" stroke="#1f77b4" stroke-width="1.1"/>
<circle cx="92.6" cy="225" r="2.0" fill="none" stroke="#1f77b4" stroke-width="1.1"/>
<circle cx="98" cy="226.2" r="2.0" fill="none" stroke="#1f77b4" stroke-width="1.1"/>
<circle cx="103.5" cy="227.3" r="2.0" fill="none" stroke="#1f77b4" stroke-width="1.1"/>
<circle cx="109.1" cy="229" r="2.0" fill="none" stroke="#1f77b4" stroke-width="1.1"/>
<circle cx="114.5" cy="230.4" r="2.0" fill="none" stroke="#1f77b4" stroke-width="1.1"/>
<circle cx="119.9" cy="232.1" r="2.0" fill="none" stroke="#1f77b4" stroke-width="1.1"/>
<circle cx="125.4" cy="234.9" r="2.0" fill="none" stroke="#1f77b4" stroke-width="1.1"/>
<circle cx="130.7" cy="237.1" r="2.0" fill="none" stroke="#1f77b4" stroke-width="1.1"/>
<circle cx="136.2" cy="240.2" r="2.0" fill="none" stroke="#1f77b4" stroke-width="1.1"/>
<circle cx="141.6" cy="242.2" r="2.0" fill="none" stroke="#1f77b4" stroke-width="1.1"/>
<circle cx="147.2" cy="245.3" r="2.0" fill="none" stroke="#1f77b4" stroke-width="1.1"/>
<circle cx="152.6" cy="248.2" r="2.0" fill="none" stroke="#1f77b4" stroke-width="1.1"/>
<circle cx="158.1" cy="251.6" r="2.0" fill="none" stroke="#1f77b4" stroke-width="1.1"/>
<circle cx="163.7" cy="255.5" r="2.0" fill="none" stroke="#1f77b4" stroke-width="1.1"/>
<circle cx="169.1" cy="258.7" r="2.0" fill="none" stroke="#1f77b4" stroke-width="1.1"/>
<circle cx="174.4" cy="261.8" r="2.0" fill="none" stroke="#1f77b4" stroke-width="1.1"/>
<circle cx="179.8" cy="264.8" r="2.0" fill="none" stroke="#1f77b4" stroke-width="1.1"/>
<circle cx="185.5" cy="268.6" r="2.0" fill="none" stroke="#1f77b4" stroke-width="1.1"/>
<circle cx="190.9" cy="271.4" r="2.0" fill="none" stroke="#1f77b4" stroke-width="1.1"/>
<circle cx="196.2" cy="274.5" r="2.0" fill="none" stroke="#1f77b4" stroke-width="1.1"/>
<circle cx="200.2" cy="277" r="2.0" fill="none" stroke="#1f77b4" stroke-width="1.1"/>
<circle cx="50.1" cy="228.7" r="2.0" fill="none" stroke="#1f77b4" stroke-width="1.1"/>
<circle cx="54.9" cy="233.8" r="2.0" fill="none" stroke="#1f77b4" stroke-width="1.1"/>
<circle cx="60.3" cy="236.4" r="2.0" fill="none" stroke="#1f77b4" stroke-width="1.1"/>
<circle cx="65.7" cy="239.8" r="2.0" fill="none" stroke="#1f77b4" stroke-width="1.1"/>
<circle cx="71" cy="242.3" r="2.0" fill="none" stroke="#1f77b4" stroke-width="1.1"/>
<circle cx="76.6" cy="245.7" r="2.0" fill="none" stroke="#1f77b4" stroke-width="1.1"/>
<circle cx="81.9" cy="248.8" r="2.0" fill="none" stroke="#1f77b4" stroke-width="1.1"/>
<circle cx="87.5" cy="252.5" r="2.0" fill="none" stroke="#1f77b4" stroke-width="1.1"/>
<circle cx="92.9" cy="255.6" r="2.0" fill="none" stroke="#1f77b4" stroke-width="1.1"/>
<circle cx="98.2" cy="258.5" r="2.0" fill="none" stroke="#1f77b4" stroke-width="1.1"/>
<circle cx="103.7" cy="260.7" r="2.0" fill="none" stroke="#1f77b4" stroke-width="1.1"/>
<circle cx="109.1" cy="264.1" r="2.0" fill="none" stroke="#1f77b4" stroke-width="1.1"/>
<circle cx="114.5" cy="266.1" r="2.0" fill="none" stroke="#1f77b4" stroke-width="1.1"/>
<circle cx="120" cy="268" r="2.0" fill="none" stroke="#1f77b4" stroke-width="1.1"/>
<circle cx="125.4" cy="270.8" r="2.0" fill="none" stroke="#1f77b4" stroke-width="1.1"/>
<circle cx="130.7" cy="273.7" r="2.0" fill="none" stroke="#1f77b4" stroke-width="1.1"/>
<circle cx="136.2" cy="275.9" r="2.0" fill="none" stroke="#1f77b4" stroke-width="1.1"/>
<circle cx="141.6" cy="278.4" r="2.0" fill="none" stroke="#1f77b4" stroke-width="1.1"/>
<circle cx="147.2" cy="280.5" r="2.0" fill="none" stroke="#1f77b4" stroke-width="1.1"/>
<circle cx="152.6" cy="282.7" r="2.0" fill="none" stroke="#1f77b4" stroke-width="1.1"/>
<circle cx="158.1" cy="284.4" r="2.0" fill="none" stroke="#1f77b4" stroke-width="1.1"/>
<circle cx="163.7" cy="286.4" r="2.0" fill="none" stroke="#1f77b4" stroke-width="1.1"/>
<circle cx="169.1" cy="288.1" r="2.0" fill="none" stroke="#1f77b4" stroke-width="1.1"/>
<circle cx="174.4" cy="288.6" r="2.0" fill="none" stroke="#1f77b4" stroke-width="1.1"/>
<circle cx="179.8" cy="289.8" r="2.0" fill="none" stroke="#1f77b4" stroke-width="1.1"/>
<circle cx="185.5" cy="290" r="2.0" fill="none" stroke="#1f77b4" stroke-width="1.1"/>
<circle cx="190.9" cy="289.8" r="2.0" fill="none" stroke="#1f77b4" stroke-width="1.1"/>
<circle cx="196.2" cy="288.4" r="2.0" fill="none" stroke="#1f77b4" stroke-width="1.1"/>
<circle cx="200.2" cy="287.3" r="2.0" fill="none" stroke="#1f77b4" stroke-width="1.1"/>
<polyline points="49.5,229.6 51,228.52 52.5,227.54 54,226.65 55.5,225.85 57,225.13 58.5,224.49 60,223.92 61.5,223.43 63,223 64.5,222.64 66,222.34 67.5,222.1 69,221.91 70.5,221.77 72,221.68 73.5,221.64 75,221.64 76.5,221.69 78,221.77 79.5,221.89 81,222.04 82.5,222.23 84,222.45 85.5,222.7 87,222.98 88.5,223.28 90,223.61 91.5,223.97 93,224.34 94.5,224.74 96,225.16 97.5,225.6 99,226.06 100.5,226.54 102,227.03 103.5,227.54 105,228.07 106.5,228.61 108,229.17 109.5,229.74 111,230.33 112.5,230.92 114,231.53 115.5,232.16 117,232.79 118.5,233.44 120,234.09 121.5,234.76 123,235.44 124.5,236.13 126,236.83 127.5,237.54 129,238.25 130.5,238.98 132,239.72 133.5,240.47 135,241.22 136.5,241.98 138,242.76 139.5,243.54 141,244.33 142.5,245.12 144,245.93 145.5,246.74 147,247.56 148.5,248.38 150,249.22 151.5,250.05 153,250.9 154.5,251.75 156,252.61 157.5,253.47 159,254.34 160.5,255.21 162,256.09 163.5,256.97 165,257.86 166.5,258.75 168,259.64 169.5,260.53 171,261.43 172.5,262.33 174,263.24 175.5,264.14 177,265.04 178.5,265.95 180,266.85 181.5,267.76 183,268.66 184.5,269.57 186,270.47 187.5,271.37 189,272.26 190.5,273.16 192,274.05 193.5,274.94 195,275.82 196.5,276.7 198,277.57 199.5,278.44 201,279.3 201.2,279.42" fill="none" stroke="#2ca02c" stroke-width="2.2" stroke-linejoin="round"/>
<polyline points="49.5,230.07 51,230.99 52.5,231.91 54,232.83 55.5,233.74 57,234.66 58.5,235.56 60,236.47 61.5,237.37 63,238.27 64.5,239.16 66,240.06 67.5,240.95 69,241.84 70.5,242.72 72,243.6 73.5,244.48 75,245.36 76.5,246.23 78,247.11 79.5,247.98 81,248.85 82.5,249.71 84,250.58 85.5,251.44 87,252.3 88.5,253.16 90,254.01 91.5,254.86 93,255.71 94.5,256.56 96,257.41 97.5,258.25 99,259.09 100.5,259.92 102,260.76 103.5,261.58 105,262.41 106.5,263.23 108,264.04 109.5,264.85 111,265.65 112.5,266.45 114,267.24 115.5,268.03 117,268.8 118.5,269.57 120,270.33 121.5,271.08 123,271.82 124.5,272.55 126,273.27 127.5,273.97 129,274.67 130.5,275.35 132,276.01 133.5,276.66 135,277.3 136.5,277.92 138,278.52 139.5,279.1 141,279.67 142.5,280.21 144,280.74 145.5,281.24 147,281.72 148.5,282.17 150,282.61 151.5,283.02 153,283.4 154.5,283.75 156,284.08 157.5,284.38 159,284.65 160.5,284.89 162,285.1 163.5,285.28 165,285.43 166.5,285.54 168,285.62 169.5,285.67 171,285.68 172.5,285.66 174,285.6 175.5,285.51 177,285.38 178.5,285.22 180,285.01 181.5,284.77 183,284.5 184.5,284.19 186,283.84 187.5,283.45 189,283.03 190.5,282.57 192,282.08 193.5,281.55 195,280.99 196.5,280.39 198,279.76 199.5,279.1 201,278.41 201.2,278.32" fill="none" stroke="#2ca02c" stroke-width="2.2" stroke-linejoin="round"/>
</g>
<circle cx="176.6" cy="223.8" r="5.3" fill="none" stroke="#1f77b4" stroke-width="3.3"/>
<rect x="49.5" y="201.9" width="151.70" height="108.50" fill="none" stroke="#000" stroke-width="1"/>
<line x1="49.5" y1="310.4" x2="49.5" y2="313" stroke="#000" stroke-width="1"/>
<line x1="71.17" y1="310.4" x2="71.17" y2="314.9" stroke="#000" stroke-width="1"/>
<line x1="92.84" y1="310.4" x2="92.84" y2="313" stroke="#000" stroke-width="1"/>
<line x1="114.51" y1="310.4" x2="114.51" y2="314.9" stroke="#000" stroke-width="1"/>
<line x1="136.19" y1="310.4" x2="136.19" y2="313" stroke="#000" stroke-width="1"/>
<line x1="157.86" y1="310.4" x2="157.86" y2="314.9" stroke="#000" stroke-width="1"/>
<line x1="179.53" y1="310.4" x2="179.53" y2="313" stroke="#000" stroke-width="1"/>
<line x1="201.2" y1="310.4" x2="201.2" y2="314.9" stroke="#000" stroke-width="1"/>
<text x="71.37" y="326.45" font-size="11.3" text-anchor="middle">−9</text>
<text x="114.71" y="326.45" font-size="11.3" text-anchor="middle">−8</text>
<text x="158.06" y="326.45" font-size="11.3" text-anchor="middle">−7</text>
<text x="201.4" y="326.45" font-size="11.3" text-anchor="middle">−6</text>
<line x1="45" y1="310.4" x2="49.5" y2="310.4" stroke="#000" stroke-width="1"/>
<line x1="46.9" y1="294.9" x2="49.5" y2="294.9" stroke="#000" stroke-width="1"/>
<line x1="45" y1="279.4" x2="49.5" y2="279.4" stroke="#000" stroke-width="1"/>
<line x1="46.9" y1="263.9" x2="49.5" y2="263.9" stroke="#000" stroke-width="1"/>
<line x1="45" y1="248.4" x2="49.5" y2="248.4" stroke="#000" stroke-width="1"/>
<line x1="46.9" y1="232.9" x2="49.5" y2="232.9" stroke="#000" stroke-width="1"/>
<line x1="45" y1="217.4" x2="49.5" y2="217.4" stroke="#000" stroke-width="1"/>
<line x1="46.9" y1="201.9" x2="49.5" y2="201.9" stroke="#000" stroke-width="1"/>
<text x="40.2" y="221.45" font-size="11.3" text-anchor="end">11.4</text>
<text x="40.2" y="252.45" font-size="11.3" text-anchor="end">11.2</text>
<text x="40.2" y="283.45" font-size="11.3" text-anchor="end">11.0</text>
<text x="40.2" y="314.45" font-size="11.3" text-anchor="end">10.8</text>
<text transform="translate(13.9,256) rotate(-90)" font-size="11.3" text-anchor="middle"><tspan font-style="italic">f</tspan><tspan font-size="8" dy="2">r</tspan><tspan dy="-2"> (MHz)</tspan></text>
<text x="125.4" y="339" font-size="11.3" text-anchor="middle"><tspan font-style="italic">V</tspan><tspan font-size="8" dy="2">dc</tspan><tspan dy="-2"> (V)</tspan></text>
<polyline points="52.54,458.26 53.8,454.76 55.06,451.39 56.32,448.16 57.58,445.06 58.84,442.08 60.1,439.21 61.36,436.46 62.62,433.81 63.88,431.27 65.14,428.83 66.39,426.49 67.65,424.23 68.91,422.07 70.17,419.98 71.43,417.99 72.69,416.06 73.95,414.22 75.21,412.44 76.47,410.74 77.73,409.1 78.99,407.52 80.25,406.01 81.51,404.55 82.77,403.15 84.03,401.81 85.28,400.52 86.54,399.27 87.8,398.08 89.06,396.93 90.32,395.83 91.58,394.77 92.84,393.75 94.1,392.77 95.36,391.82 96.62,390.91 97.88,390.04 99.14,389.2 100.4,388.4 101.66,387.62 102.91,386.87 104.17,386.15 105.43,385.46 106.69,384.8 107.95,384.16 109.21,383.54 110.47,382.95 111.73,382.38 112.99,381.83 114.25,381.3 115.51,380.79 116.77,380.3 118.03,379.83 119.29,379.38 120.55,378.94 121.8,378.52 123.06,378.11 124.32,377.72 125.58,377.34 126.84,376.98 128.1,376.63 129.36,376.29 130.62,375.97 131.88,375.66 133.14,375.35 134.4,375.06 135.66,374.78 136.92,374.51 138.18,374.25 139.43,374 140.69,373.75 141.95,373.52 143.21,373.29 144.47,373.07 145.73,372.86 146.99,372.65 148.25,372.45 149.51,372.26 150.77,372.08 152.03,371.9 153.29,371.72 154.55,371.56 155.81,371.39 157.06,371.24 158.32,371.09 159.58,370.94 160.84,370.8 162.1,370.66 163.36,370.52 164.62,370.39 165.88,370.27 167.14,370.14 168.4,370.03 169.66,369.91 170.92,369.8 172.18,369.69 173.44,369.58 174.7,369.48 175.95,369.38 177.21,369.28 178.47,369.19 179.73,369.1 180.99,369.01 182.25,368.92 183.51,368.83 184.77,368.75 186.03,368.67 187.29,368.59 188.55,368.51 189.81,368.44 191.07,368.37 192.33,368.29 193.58,368.22 194.84,368.15 196.1,368.09 197.36,368.02 198.62,367.96 199.88,367.89 201.14,367.83 202.4,367.77" fill="none" stroke="#d62728" stroke-width="2" stroke-linejoin="round"/>
<circle cx="72.5" cy="415.8" r="4.4" fill="none" stroke="#1f77b4" stroke-width="1.9"/>
<rect x="92.4" y="390.7" width="8.8" height="8.8" fill="none" stroke="#1f77b4" stroke-width="1.9"/>
<path d="M145,368.8 L148.6,375 L145,381.2 L141.4,375 Z" fill="none" stroke="#1f77b4" stroke-width="1.9"/>
<rect x="48.7" y="357.6" width="153.70" height="108.70" fill="none" stroke="#000" stroke-width="1"/>
<line x1="48.7" y1="466.3" x2="48.7" y2="470.8" stroke="#000" stroke-width="1"/>
<text x="48.7" y="484.05" font-size="11.3" text-anchor="middle">0.000</text>
<line x1="87.12" y1="466.3" x2="87.12" y2="470.8" stroke="#000" stroke-width="1"/>
<text x="87.12" y="484.05" font-size="11.3" text-anchor="middle">0.001</text>
<line x1="125.55" y1="466.3" x2="125.55" y2="470.8" stroke="#000" stroke-width="1"/>
<text x="125.55" y="484.05" font-size="11.3" text-anchor="middle">0.002</text>
<line x1="163.97" y1="466.3" x2="163.97" y2="470.8" stroke="#000" stroke-width="1"/>
<text x="163.97" y="484.05" font-size="11.3" text-anchor="middle">0.003</text>
<line x1="202.4" y1="466.3" x2="202.4" y2="470.8" stroke="#000" stroke-width="1"/>
<text x="202.4" y="484.05" font-size="11.3" text-anchor="middle">0.004</text>
<line x1="44.2" y1="466.3" x2="48.7" y2="466.3" stroke="#000" stroke-width="1"/>
<text x="38.6" y="470.35" font-size="11.3" text-anchor="end">0</text>
<line x1="44.2" y1="435.24" x2="48.7" y2="435.24" stroke="#000" stroke-width="1"/>
<text x="38.6" y="439.29" font-size="11.3" text-anchor="end">1</text>
<line x1="44.2" y1="404.19" x2="48.7" y2="404.19" stroke="#000" stroke-width="1"/>
<text x="38.6" y="408.23" font-size="11.3" text-anchor="end">2</text>
<line x1="44.2" y1="373.13" x2="48.7" y2="373.13" stroke="#000" stroke-width="1"/>
<text x="38.6" y="377.17" font-size="11.3" text-anchor="end">3</text>
<text transform="translate(28.7,412.6) rotate(-90)" font-size="11.7" text-anchor="middle">Loop width Δ<tspan font-style="italic">V</tspan><tspan font-size="8" dy="2">dc</tspan><tspan dy="-2"> (V)</tspan></text>
<text x="125" y="497.5" font-size="11.3" text-anchor="middle">d<tspan font-style="italic">V</tspan><tspan font-size="8" dy="2">dc</tspan><tspan dy="-2">/d</tspan><tspan font-style="italic">t</tspan> (V s<tspan font-size="8" dy="-4">−1</tspan><tspan dy="4">)</tspan></text>
<line x1="417.2" y1="223.8" x2="417.2" y2="468.2" stroke="#d4d4d4" stroke-width="1.5"/>
<line x1="424.5" y1="223.8" x2="424.5" y2="468.2" stroke="#d4d4d4" stroke-width="1.5"/>
<line x1="550.5" y1="223.8" x2="550.5" y2="468.2" stroke="#d4d4d4" stroke-width="1.5"/>
<line x1="557.8" y1="223.8" x2="557.8" y2="468.2" stroke="#d4d4d4" stroke-width="1.5"/>
<line x1="291.4" y1="211.9" x2="291.4" y2="288.8" stroke="#000" stroke-width="1"/>
<line x1="290.9" y1="288.8" x2="685" y2="288.8" stroke="#000" stroke-width="1"/>
<line x1="286.9" y1="220" x2="291.4" y2="220" stroke="#000" stroke-width="1"/>
<text x="282.6" y="224.05" font-size="11.3" text-anchor="end">−5</text>
<line x1="286.9" y1="237.2" x2="291.4" y2="237.2" stroke="#000" stroke-width="1"/>
<text x="282.6" y="241.25" font-size="11.3" text-anchor="end">−6</text>
<line x1="286.9" y1="254.4" x2="291.4" y2="254.4" stroke="#000" stroke-width="1"/>
<text x="282.6" y="258.45" font-size="11.3" text-anchor="end">−7</text>
<line x1="286.9" y1="271.6" x2="291.4" y2="271.6" stroke="#000" stroke-width="1"/>
<text x="282.6" y="275.65" font-size="11.3" text-anchor="end">−8</text>
<line x1="286.9" y1="288.8" x2="291.4" y2="288.8" stroke="#000" stroke-width="1"/>
<text x="282.6" y="292.85" font-size="11.3" text-anchor="end">−9</text>
<polyline points="291.4,271.6 350.48,237.2 357.87,237.2 416.94,271.6 424.33,271.6 483.41,237.2 490.79,237.2 549.88,271.6 557.26,271.6 616.34,237.2 623.72,237.2 682.8,271.6" fill="none" stroke="#000" stroke-width="1.9" stroke-linejoin="round"/>
<text transform="translate(265.5,250.5) rotate(-90)" font-size="11.3" text-anchor="middle"><tspan font-style="italic">V</tspan><tspan font-size="8" dy="2">dc</tspan><tspan dy="-2"> (V)</tspan></text>
<text x="354.6" y="221.25" font-size="11.3" text-anchor="middle">1st</text>
<text x="487.6" y="221.25" font-size="11.3" text-anchor="middle">2nd</text>
<text x="621.5" y="221.25" font-size="11.3" text-anchor="middle">3rd</text>
<text x="428.6" y="220" font-size="11.3" font-style="italic">t<tspan font-size="8" dy="2">s</tspan></text>
<text x="565.6" y="220" font-size="11.3" font-style="italic">t<tspan font-size="8" dy="2">s</tspan></text>
<line x1="398.1" y1="234.8" x2="410" y2="234.8" stroke="#7a7a7a" stroke-width="1.4"/>
<path d="M415.0,234.8 L408.4,229.3 L408.4,240.3 Z" fill="#7a7a7a"/>
<line x1="532.2" y1="234.8" x2="544.1" y2="234.8" stroke="#7a7a7a" stroke-width="1.4"/>
<path d="M549.1,234.8 L542.5,229.3 L542.5,240.3 Z" fill="#7a7a7a"/>
<line x1="441.2" y1="234.8" x2="429.4" y2="234.8" stroke="#7a7a7a" stroke-width="1.4"/>
<path d="M424.4,234.8 L431.0,229.3 L431.0,240.3 Z" fill="#7a7a7a"/>
<line x1="575" y1="234.8" x2="562.9" y2="234.8" stroke="#7a7a7a" stroke-width="1.4"/>
<path d="M557.9,234.8 L564.5,229.3 L564.5,240.3 Z" fill="#7a7a7a"/>
<line x1="291.4" y1="301.6" x2="291.4" y2="379" stroke="#000" stroke-width="1"/>
<line x1="290.9" y1="379" x2="685" y2="379" stroke="#000" stroke-width="1"/>
<line x1="286.9" y1="323.6" x2="291.4" y2="323.6" stroke="#000" stroke-width="1"/>
<text x="282.6" y="327.65" font-size="11.3" text-anchor="end">11.00</text>
<line x1="286.9" y1="351.3" x2="291.4" y2="351.3" stroke="#000" stroke-width="1"/>
<text x="282.6" y="355.35" font-size="11.3" text-anchor="end">10.75</text>
<line x1="286.9" y1="379" x2="291.4" y2="379" stroke="#000" stroke-width="1"/>
<text x="282.6" y="383.05" font-size="11.3" text-anchor="end">10.50</text>
<text transform="translate(251.6,341) rotate(-90)" font-size="11.3" text-anchor="middle"><tspan font-style="italic">f</tspan><tspan font-size="8" dy="2">r</tspan><tspan dy="-2"> (MHz)</tspan></text>
<line x1="291.4" y1="390.8" x2="291.4" y2="468.2" stroke="#000" stroke-width="1"/>
<line x1="290.9" y1="468.2" x2="685" y2="468.2" stroke="#000" stroke-width="1"/>
<line x1="286.9" y1="407.3" x2="291.4" y2="407.3" stroke="#000" stroke-width="1"/>
<text x="282.6" y="411.35" font-size="11.3" text-anchor="end">200</text>
<line x1="286.9" y1="436.3" x2="291.4" y2="436.3" stroke="#000" stroke-width="1"/>
<text x="282.6" y="440.35" font-size="11.3" text-anchor="end">180</text>
<line x1="286.9" y1="465.2" x2="291.4" y2="465.2" stroke="#000" stroke-width="1"/>
<text x="282.6" y="469.25" font-size="11.3" text-anchor="end">160</text>
<text transform="translate(259.9,430.6) rotate(-90)" font-size="11.3" text-anchor="middle" font-style="italic">Q</text>
<line x1="291.4" y1="288.8" x2="291.4" y2="292.8" stroke="#000" stroke-width="1"/>
<line x1="337.33" y1="288.8" x2="337.33" y2="292.8" stroke="#000" stroke-width="1"/>
<line x1="383.26" y1="288.8" x2="383.26" y2="292.8" stroke="#000" stroke-width="1"/>
<line x1="429.19" y1="288.8" x2="429.19" y2="292.8" stroke="#000" stroke-width="1"/>
<line x1="475.12" y1="288.8" x2="475.12" y2="292.8" stroke="#000" stroke-width="1"/>
<line x1="521.05" y1="288.8" x2="521.05" y2="292.8" stroke="#000" stroke-width="1"/>
<line x1="566.98" y1="288.8" x2="566.98" y2="292.8" stroke="#000" stroke-width="1"/>
<line x1="612.91" y1="288.8" x2="612.91" y2="292.8" stroke="#000" stroke-width="1"/>
<line x1="658.84" y1="288.8" x2="658.84" y2="292.8" stroke="#000" stroke-width="1"/>
<line x1="291.4" y1="379" x2="291.4" y2="383" stroke="#000" stroke-width="1"/>
<line x1="337.33" y1="379" x2="337.33" y2="383" stroke="#000" stroke-width="1"/>
<line x1="383.26" y1="379" x2="383.26" y2="383" stroke="#000" stroke-width="1"/>
<line x1="429.19" y1="379" x2="429.19" y2="383" stroke="#000" stroke-width="1"/>
<line x1="475.12" y1="379" x2="475.12" y2="383" stroke="#000" stroke-width="1"/>
<line x1="521.05" y1="379" x2="521.05" y2="383" stroke="#000" stroke-width="1"/>
<line x1="566.98" y1="379" x2="566.98" y2="383" stroke="#000" stroke-width="1"/>
<line x1="612.91" y1="379" x2="612.91" y2="383" stroke="#000" stroke-width="1"/>
<line x1="658.84" y1="379" x2="658.84" y2="383" stroke="#000" stroke-width="1"/>
<line x1="291.4" y1="468.2" x2="291.4" y2="472.2" stroke="#000" stroke-width="1"/>
<line x1="337.33" y1="468.2" x2="337.33" y2="472.2" stroke="#000" stroke-width="1"/>
<line x1="383.26" y1="468.2" x2="383.26" y2="472.2" stroke="#000" stroke-width="1"/>
<line x1="429.19" y1="468.2" x2="429.19" y2="472.2" stroke="#000" stroke-width="1"/>
<line x1="475.12" y1="468.2" x2="475.12" y2="472.2" stroke="#000" stroke-width="1"/>
<line x1="521.05" y1="468.2" x2="521.05" y2="472.2" stroke="#000" stroke-width="1"/>
<line x1="566.98" y1="468.2" x2="566.98" y2="472.2" stroke="#000" stroke-width="1"/>
<line x1="612.91" y1="468.2" x2="612.91" y2="472.2" stroke="#000" stroke-width="1"/>
<line x1="658.84" y1="468.2" x2="658.84" y2="472.2" stroke="#000" stroke-width="1"/>
<text x="291.4" y="485.05" font-size="11.3" text-anchor="middle">0</text>
<text x="337.33" y="485.05" font-size="11.3" text-anchor="middle">20</text>
<text x="383.26" y="485.05" font-size="11.3" text-anchor="middle">40</text>
<text x="429.19" y="485.05" font-size="11.3" text-anchor="middle">60</text>
<text x="475.12" y="485.05" font-size="11.3" text-anchor="middle">80</text>
<text x="521.05" y="485.05" font-size="11.3" text-anchor="middle">100</text>
<text x="566.98" y="485.05" font-size="11.3" text-anchor="middle">120</text>
<text x="612.91" y="485.05" font-size="11.3" text-anchor="middle">140</text>
<text x="658.84" y="485.05" font-size="11.3" text-anchor="middle">160</text>
<text x="487.5" y="496.35" font-size="11.3" text-anchor="middle">Time (min)</text>
<g clip-path="url(#clipm)">
<polyline points="291.4,317.5 298.78,316.7 306.17,316.2 313.55,316.3 320.94,317 328.32,317.7 335.71,319.7 343.09,321.9 350.48,324.3 357.87,337.4 365.25,337.1 372.63,336.1 380.02,334.9 387.4,332.5 394.79,330.3 402.17,327.6 409.56,325 416.94,321.8 424.33,315 431.71,313.6 439.1,313.6 446.49,315 453.87,316.2 461.25,317.9 468.64,320.1 476.02,322.1 483.41,325.2 490.79,326.9 498.18,328.1 505.56,328.1 512.95,328.1 520.34,326.9 527.72,325.2 535.11,323 542.49,320.7 549.88,317.9 557.26,317.9 564.64,316.6 572.03,316.8 579.41,318 586.8,319.2 594.18,321.2 601.57,323.5 608.95,326.4 616.34,329.3 623.72,327.6 631.11,329.3 638.49,329.8 645.88,329.3 653.26,328.1 660.65,326.4 668.03,325.2 675.42,323 682.8,320.4" fill="none" stroke="#2ca02c" stroke-width="1.9" stroke-linejoin="round"/>
<circle cx="291.4" cy="317.5" r="2.1" fill="#fff" stroke="#2ca02c" stroke-width="1.1"/>
<circle cx="298.8" cy="316.7" r="2.1" fill="#fff" stroke="#2ca02c" stroke-width="1.1"/>
<circle cx="306.2" cy="316.2" r="2.1" fill="#fff" stroke="#2ca02c" stroke-width="1.1"/>
<circle cx="313.6" cy="316.3" r="2.1" fill="#fff" stroke="#2ca02c" stroke-width="1.1"/>
<circle cx="320.9" cy="317.0" r="2.1" fill="#fff" stroke="#2ca02c" stroke-width="1.1"/>
<circle cx="328.3" cy="317.7" r="2.1" fill="#fff" stroke="#2ca02c" stroke-width="1.1"/>
<circle cx="335.7" cy="319.7" r="2.1" fill="#fff" stroke="#2ca02c" stroke-width="1.1"/>
<circle cx="343.1" cy="321.9" r="2.1" fill="#fff" stroke="#2ca02c" stroke-width="1.1"/>
<circle cx="350.5" cy="324.3" r="2.1" fill="#fff" stroke="#2ca02c" stroke-width="1.1"/>
<circle cx="357.9" cy="337.4" r="2.1" fill="#fff" stroke="#2ca02c" stroke-width="1.1"/>
<circle cx="365.2" cy="337.1" r="2.1" fill="#fff" stroke="#2ca02c" stroke-width="1.1"/>
<circle cx="372.6" cy="336.1" r="2.1" fill="#fff" stroke="#2ca02c" stroke-width="1.1"/>
<circle cx="380.0" cy="334.9" r="2.1" fill="#fff" stroke="#2ca02c" stroke-width="1.1"/>
<circle cx="387.4" cy="332.5" r="2.1" fill="#fff" stroke="#2ca02c" stroke-width="1.1"/>
<circle cx="394.8" cy="330.3" r="2.1" fill="#fff" stroke="#2ca02c" stroke-width="1.1"/>
<circle cx="402.2" cy="327.6" r="2.1" fill="#fff" stroke="#2ca02c" stroke-width="1.1"/>
<circle cx="409.6" cy="325.0" r="2.1" fill="#fff" stroke="#2ca02c" stroke-width="1.1"/>
<circle cx="416.9" cy="321.8" r="2.1" fill="#fff" stroke="#2ca02c" stroke-width="1.1"/>
<circle cx="424.3" cy="315.0" r="2.1" fill="#fff" stroke="#2ca02c" stroke-width="1.1"/>
<circle cx="431.7" cy="313.6" r="2.1" fill="#fff" stroke="#2ca02c" stroke-width="1.1"/>
<circle cx="439.1" cy="313.6" r="2.1" fill="#fff" stroke="#2ca02c" stroke-width="1.1"/>
<circle cx="446.5" cy="315.0" r="2.1" fill="#fff" stroke="#2ca02c" stroke-width="1.1"/>
<circle cx="453.9" cy="316.2" r="2.1" fill="#fff" stroke="#2ca02c" stroke-width="1.1"/>
<circle cx="461.3" cy="317.9" r="2.1" fill="#fff" stroke="#2ca02c" stroke-width="1.1"/>
<circle cx="468.6" cy="320.1" r="2.1" fill="#fff" stroke="#2ca02c" stroke-width="1.1"/>
<circle cx="476.0" cy="322.1" r="2.1" fill="#fff" stroke="#2ca02c" stroke-width="1.1"/>
<circle cx="483.4" cy="325.2" r="2.1" fill="#fff" stroke="#2ca02c" stroke-width="1.1"/>
<circle cx="490.8" cy="326.9" r="2.1" fill="#fff" stroke="#2ca02c" stroke-width="1.1"/>
<circle cx="498.2" cy="328.1" r="2.1" fill="#fff" stroke="#2ca02c" stroke-width="1.1"/>
<circle cx="505.6" cy="328.1" r="2.1" fill="#fff" stroke="#2ca02c" stroke-width="1.1"/>
<circle cx="512.9" cy="328.1" r="2.1" fill="#fff" stroke="#2ca02c" stroke-width="1.1"/>
<circle cx="520.3" cy="326.9" r="2.1" fill="#fff" stroke="#2ca02c" stroke-width="1.1"/>
<circle cx="527.7" cy="325.2" r="2.1" fill="#fff" stroke="#2ca02c" stroke-width="1.1"/>
<circle cx="535.1" cy="323.0" r="2.1" fill="#fff" stroke="#2ca02c" stroke-width="1.1"/>
<circle cx="542.5" cy="320.7" r="2.1" fill="#fff" stroke="#2ca02c" stroke-width="1.1"/>
<circle cx="549.9" cy="317.9" r="2.1" fill="#fff" stroke="#2ca02c" stroke-width="1.1"/>
<circle cx="557.3" cy="317.9" r="2.1" fill="#fff" stroke="#2ca02c" stroke-width="1.1"/>
<circle cx="564.6" cy="316.6" r="2.1" fill="#fff" stroke="#2ca02c" stroke-width="1.1"/>
<circle cx="572.0" cy="316.8" r="2.1" fill="#fff" stroke="#2ca02c" stroke-width="1.1"/>
<circle cx="579.4" cy="318.0" r="2.1" fill="#fff" stroke="#2ca02c" stroke-width="1.1"/>
<circle cx="586.8" cy="319.2" r="2.1" fill="#fff" stroke="#2ca02c" stroke-width="1.1"/>
<circle cx="594.2" cy="321.2" r="2.1" fill="#fff" stroke="#2ca02c" stroke-width="1.1"/>
<circle cx="601.6" cy="323.5" r="2.1" fill="#fff" stroke="#2ca02c" stroke-width="1.1"/>
<circle cx="609.0" cy="326.4" r="2.1" fill="#fff" stroke="#2ca02c" stroke-width="1.1"/>
<circle cx="616.3" cy="329.3" r="2.1" fill="#fff" stroke="#2ca02c" stroke-width="1.1"/>
<circle cx="623.7" cy="327.6" r="2.1" fill="#fff" stroke="#2ca02c" stroke-width="1.1"/>
<circle cx="631.1" cy="329.3" r="2.1" fill="#fff" stroke="#2ca02c" stroke-width="1.1"/>
<circle cx="638.5" cy="329.8" r="2.1" fill="#fff" stroke="#2ca02c" stroke-width="1.1"/>
<circle cx="645.9" cy="329.3" r="2.1" fill="#fff" stroke="#2ca02c" stroke-width="1.1"/>
<circle cx="653.3" cy="328.1" r="2.1" fill="#fff" stroke="#2ca02c" stroke-width="1.1"/>
<circle cx="660.6" cy="326.4" r="2.1" fill="#fff" stroke="#2ca02c" stroke-width="1.1"/>
<circle cx="668.0" cy="325.2" r="2.1" fill="#fff" stroke="#2ca02c" stroke-width="1.1"/>
<circle cx="675.4" cy="323.0" r="2.1" fill="#fff" stroke="#2ca02c" stroke-width="1.1"/>
<circle cx="682.8" cy="320.4" r="2.1" fill="#fff" stroke="#2ca02c" stroke-width="1.1"/>
</g>
<g clip-path="url(#clipm)">
<polyline points="291.4,334 298.78,331.1 306.17,328.9 313.55,327.2 320.94,326.9 328.32,326 335.71,326 343.09,326.7 350.48,326.4 357.87,373.5 365.25,368.9 372.63,364.3 380.02,358.3 387.4,354.2 394.79,350.7 402.17,345.9 409.56,342.2 416.94,338.3 424.33,312.2 431.71,311.1 439.1,310.5 446.49,310.5 453.87,311.1 461.25,311.9 468.64,313.3 476.02,315.3 483.41,317 490.79,328.9 498.18,328.1 505.56,326.4 512.95,324.1 520.34,322.4 527.72,320.7 535.11,318.4 542.49,316.5 549.88,313.7 557.26,308.6 564.64,307.6 572.03,307.6 579.41,308 586.8,308.8 594.18,310.2 601.57,312.2 608.95,313.9 616.34,317 623.72,320.1 631.11,320.4 638.49,320.4 645.88,320.1 653.26,318.4 660.65,317 668.03,315 675.42,312.8 682.8,310.2" fill="none" stroke="#1f77b4" stroke-width="1.9" stroke-linejoin="round"/>
<path d="M291.4,331.1l1.45,2.9l-1.45,2.9l-1.45,-2.9z" fill="#fff" stroke="#1f77b4" stroke-width="1.2"/>
<path d="M298.8,328.2l1.45,2.9l-1.45,2.9l-1.45,-2.9z" fill="#fff" stroke="#1f77b4" stroke-width="1.2"/>
<path d="M306.2,326.0l1.45,2.9l-1.45,2.9l-1.45,-2.9z" fill="#fff" stroke="#1f77b4" stroke-width="1.2"/>
<path d="M313.6,324.3l1.45,2.9l-1.45,2.9l-1.45,-2.9z" fill="#fff" stroke="#1f77b4" stroke-width="1.2"/>
<path d="M320.9,324.0l1.45,2.9l-1.45,2.9l-1.45,-2.9z" fill="#fff" stroke="#1f77b4" stroke-width="1.2"/>
<path d="M328.3,323.1l1.45,2.9l-1.45,2.9l-1.45,-2.9z" fill="#fff" stroke="#1f77b4" stroke-width="1.2"/>
<path d="M335.7,323.1l1.45,2.9l-1.45,2.9l-1.45,-2.9z" fill="#fff" stroke="#1f77b4" stroke-width="1.2"/>
<path d="M343.1,323.8l1.45,2.9l-1.45,2.9l-1.45,-2.9z" fill="#fff" stroke="#1f77b4" stroke-width="1.2"/>
<path d="M350.5,323.5l1.45,2.9l-1.45,2.9l-1.45,-2.9z" fill="#fff" stroke="#1f77b4" stroke-width="1.2"/>
<path d="M357.9,370.6l1.45,2.9l-1.45,2.9l-1.45,-2.9z" fill="#fff" stroke="#1f77b4" stroke-width="1.2"/>
<path d="M365.2,366.0l1.45,2.9l-1.45,2.9l-1.45,-2.9z" fill="#fff" stroke="#1f77b4" stroke-width="1.2"/>
<path d="M372.6,361.4l1.45,2.9l-1.45,2.9l-1.45,-2.9z" fill="#fff" stroke="#1f77b4" stroke-width="1.2"/>
<path d="M380.0,355.4l1.45,2.9l-1.45,2.9l-1.45,-2.9z" fill="#fff" stroke="#1f77b4" stroke-width="1.2"/>
<path d="M387.4,351.3l1.45,2.9l-1.45,2.9l-1.45,-2.9z" fill="#fff" stroke="#1f77b4" stroke-width="1.2"/>
<path d="M394.8,347.8l1.45,2.9l-1.45,2.9l-1.45,-2.9z" fill="#fff" stroke="#1f77b4" stroke-width="1.2"/>
<path d="M402.2,343.0l1.45,2.9l-1.45,2.9l-1.45,-2.9z" fill="#fff" stroke="#1f77b4" stroke-width="1.2"/>
<path d="M409.6,339.3l1.45,2.9l-1.45,2.9l-1.45,-2.9z" fill="#fff" stroke="#1f77b4" stroke-width="1.2"/>
<path d="M416.9,335.4l1.45,2.9l-1.45,2.9l-1.45,-2.9z" fill="#fff" stroke="#1f77b4" stroke-width="1.2"/>
<path d="M424.3,309.3l1.45,2.9l-1.45,2.9l-1.45,-2.9z" fill="#fff" stroke="#1f77b4" stroke-width="1.2"/>
<path d="M431.7,308.2l1.45,2.9l-1.45,2.9l-1.45,-2.9z" fill="#fff" stroke="#1f77b4" stroke-width="1.2"/>
<path d="M439.1,307.6l1.45,2.9l-1.45,2.9l-1.45,-2.9z" fill="#fff" stroke="#1f77b4" stroke-width="1.2"/>
<path d="M446.5,307.6l1.45,2.9l-1.45,2.9l-1.45,-2.9z" fill="#fff" stroke="#1f77b4" stroke-width="1.2"/>
<path d="M453.9,308.2l1.45,2.9l-1.45,2.9l-1.45,-2.9z" fill="#fff" stroke="#1f77b4" stroke-width="1.2"/>
<path d="M461.3,309.0l1.45,2.9l-1.45,2.9l-1.45,-2.9z" fill="#fff" stroke="#1f77b4" stroke-width="1.2"/>
<path d="M468.6,310.4l1.45,2.9l-1.45,2.9l-1.45,-2.9z" fill="#fff" stroke="#1f77b4" stroke-width="1.2"/>
<path d="M476.0,312.4l1.45,2.9l-1.45,2.9l-1.45,-2.9z" fill="#fff" stroke="#1f77b4" stroke-width="1.2"/>
<path d="M483.4,314.1l1.45,2.9l-1.45,2.9l-1.45,-2.9z" fill="#fff" stroke="#1f77b4" stroke-width="1.2"/>
<path d="M490.8,326.0l1.45,2.9l-1.45,2.9l-1.45,-2.9z" fill="#fff" stroke="#1f77b4" stroke-width="1.2"/>
<path d="M498.2,325.2l1.45,2.9l-1.45,2.9l-1.45,-2.9z" fill="#fff" stroke="#1f77b4" stroke-width="1.2"/>
<path d="M505.6,323.5l1.45,2.9l-1.45,2.9l-1.45,-2.9z" fill="#fff" stroke="#1f77b4" stroke-width="1.2"/>
<path d="M512.9,321.2l1.45,2.9l-1.45,2.9l-1.45,-2.9z" fill="#fff" stroke="#1f77b4" stroke-width="1.2"/>
<path d="M520.3,319.5l1.45,2.9l-1.45,2.9l-1.45,-2.9z" fill="#fff" stroke="#1f77b4" stroke-width="1.2"/>
<path d="M527.7,317.8l1.45,2.9l-1.45,2.9l-1.45,-2.9z" fill="#fff" stroke="#1f77b4" stroke-width="1.2"/>
<path d="M535.1,315.5l1.45,2.9l-1.45,2.9l-1.45,-2.9z" fill="#fff" stroke="#1f77b4" stroke-width="1.2"/>
<path d="M542.5,313.6l1.45,2.9l-1.45,2.9l-1.45,-2.9z" fill="#fff" stroke="#1f77b4" stroke-width="1.2"/>
<path d="M549.9,310.8l1.45,2.9l-1.45,2.9l-1.45,-2.9z" fill="#fff" stroke="#1f77b4" stroke-width="1.2"/>
<path d="M557.3,305.7l1.45,2.9l-1.45,2.9l-1.45,-2.9z" fill="#fff" stroke="#1f77b4" stroke-width="1.2"/>
<path d="M564.6,304.7l1.45,2.9l-1.45,2.9l-1.45,-2.9z" fill="#fff" stroke="#1f77b4" stroke-width="1.2"/>
<path d="M572.0,304.7l1.45,2.9l-1.45,2.9l-1.45,-2.9z" fill="#fff" stroke="#1f77b4" stroke-width="1.2"/>
<path d="M579.4,305.1l1.45,2.9l-1.45,2.9l-1.45,-2.9z" fill="#fff" stroke="#1f77b4" stroke-width="1.2"/>
<path d="M586.8,305.9l1.45,2.9l-1.45,2.9l-1.45,-2.9z" fill="#fff" stroke="#1f77b4" stroke-width="1.2"/>
<path d="M594.2,307.3l1.45,2.9l-1.45,2.9l-1.45,-2.9z" fill="#fff" stroke="#1f77b4" stroke-width="1.2"/>
<path d="M601.6,309.3l1.45,2.9l-1.45,2.9l-1.45,-2.9z" fill="#fff" stroke="#1f77b4" stroke-width="1.2"/>
<path d="M609.0,311.0l1.45,2.9l-1.45,2.9l-1.45,-2.9z" fill="#fff" stroke="#1f77b4" stroke-width="1.2"/>
<path d="M616.3,314.1l1.45,2.9l-1.45,2.9l-1.45,-2.9z" fill="#fff" stroke="#1f77b4" stroke-width="1.2"/>
<path d="M623.7,317.2l1.45,2.9l-1.45,2.9l-1.45,-2.9z" fill="#fff" stroke="#1f77b4" stroke-width="1.2"/>
<path d="M631.1,317.5l1.45,2.9l-1.45,2.9l-1.45,-2.9z" fill="#fff" stroke="#1f77b4" stroke-width="1.2"/>
<path d="M638.5,317.5l1.45,2.9l-1.45,2.9l-1.45,-2.9z" fill="#fff" stroke="#1f77b4" stroke-width="1.2"/>
<path d="M645.9,317.2l1.45,2.9l-1.45,2.9l-1.45,-2.9z" fill="#fff" stroke="#1f77b4" stroke-width="1.2"/>
<path d="M653.3,315.5l1.45,2.9l-1.45,2.9l-1.45,-2.9z" fill="#fff" stroke="#1f77b4" stroke-width="1.2"/>
<path d="M660.6,314.1l1.45,2.9l-1.45,2.9l-1.45,-2.9z" fill="#fff" stroke="#1f77b4" stroke-width="1.2"/>
<path d="M668.0,312.1l1.45,2.9l-1.45,2.9l-1.45,-2.9z" fill="#fff" stroke="#1f77b4" stroke-width="1.2"/>
<path d="M675.4,309.9l1.45,2.9l-1.45,2.9l-1.45,-2.9z" fill="#fff" stroke="#1f77b4" stroke-width="1.2"/>
<path d="M682.8,307.3l1.45,2.9l-1.45,2.9l-1.45,-2.9z" fill="#fff" stroke="#1f77b4" stroke-width="1.2"/>
</g>
<g clip-path="url(#clipq)">
<polyline points="291.4,418 298.78,424.4 306.17,431.3 313.55,433.5 320.94,435.6 328.32,431.9 335.71,442 343.09,445.2 350.48,450 357.87,442.5 365.25,437.7 372.63,433.2 380.02,431.3 387.4,429.9 394.79,426.8 402.17,421.2 409.56,413.7 416.94,411.6 424.33,425.5 431.71,428.1 439.1,433.5 446.49,440.9 453.87,442 461.25,442.8 468.64,451.8 476.02,448.9 483.41,455.3 490.79,449.5 498.18,441.2 505.56,440.9 512.95,438.3 520.34,430.3 527.72,426.5 535.11,421.7 542.49,422.3 549.88,420.6 557.26,431.6 564.64,437.6 572.03,442.4 579.41,446.5 586.8,448.6 594.18,452.3 601.57,451.3 608.95,462.3 616.34,462.3 623.72,452.9 631.11,455.3 638.49,448.4 645.88,441.5 653.26,439.6 660.65,442.8 668.03,438.8 675.42,433.2 682.8,432.4" fill="none" stroke="#2ca02c" stroke-width="1.9" stroke-linejoin="round"/>
<circle cx="291.4" cy="418.0" r="2.1" fill="#fff" stroke="#2ca02c" stroke-width="1.1"/>
<circle cx="298.8" cy="424.4" r="2.1" fill="#fff" stroke="#2ca02c" stroke-width="1.1"/>
<circle cx="306.2" cy="431.3" r="2.1" fill="#fff" stroke="#2ca02c" stroke-width="1.1"/>
<circle cx="313.6" cy="433.5" r="2.1" fill="#fff" stroke="#2ca02c" stroke-width="1.1"/>
<circle cx="320.9" cy="435.6" r="2.1" fill="#fff" stroke="#2ca02c" stroke-width="1.1"/>
<circle cx="328.3" cy="431.9" r="2.1" fill="#fff" stroke="#2ca02c" stroke-width="1.1"/>
<circle cx="335.7" cy="442.0" r="2.1" fill="#fff" stroke="#2ca02c" stroke-width="1.1"/>
<circle cx="343.1" cy="445.2" r="2.1" fill="#fff" stroke="#2ca02c" stroke-width="1.1"/>
<circle cx="350.5" cy="450.0" r="2.1" fill="#fff" stroke="#2ca02c" stroke-width="1.1"/>
<circle cx="357.9" cy="442.5" r="2.1" fill="#fff" stroke="#2ca02c" stroke-width="1.1"/>
<circle cx="365.2" cy="437.7" r="2.1" fill="#fff" stroke="#2ca02c" stroke-width="1.1"/>
<circle cx="372.6" cy="433.2" r="2.1" fill="#fff" stroke="#2ca02c" stroke-width="1.1"/>
<circle cx="380.0" cy="431.3" r="2.1" fill="#fff" stroke="#2ca02c" stroke-width="1.1"/>
<circle cx="387.4" cy="429.9" r="2.1" fill="#fff" stroke="#2ca02c" stroke-width="1.1"/>
<circle cx="394.8" cy="426.8" r="2.1" fill="#fff" stroke="#2ca02c" stroke-width="1.1"/>
<circle cx="402.2" cy="421.2" r="2.1" fill="#fff" stroke="#2ca02c" stroke-width="1.1"/>
<circle cx="409.6" cy="413.7" r="2.1" fill="#fff" stroke="#2ca02c" stroke-width="1.1"/>
<circle cx="416.9" cy="411.6" r="2.1" fill="#fff" stroke="#2ca02c" stroke-width="1.1"/>
<circle cx="424.3" cy="425.5" r="2.1" fill="#fff" stroke="#2ca02c" stroke-width="1.1"/>
<circle cx="431.7" cy="428.1" r="2.1" fill="#fff" stroke="#2ca02c" stroke-width="1.1"/>
<circle cx="439.1" cy="433.5" r="2.1" fill="#fff" stroke="#2ca02c" stroke-width="1.1"/>
<circle cx="446.5" cy="440.9" r="2.1" fill="#fff" stroke="#2ca02c" stroke-width="1.1"/>
<circle cx="453.9" cy="442.0" r="2.1" fill="#fff" stroke="#2ca02c" stroke-width="1.1"/>
<circle cx="461.3" cy="442.8" r="2.1" fill="#fff" stroke="#2ca02c" stroke-width="1.1"/>
<circle cx="468.6" cy="451.8" r="2.1" fill="#fff" stroke="#2ca02c" stroke-width="1.1"/>
<circle cx="476.0" cy="448.9" r="2.1" fill="#fff" stroke="#2ca02c" stroke-width="1.1"/>
<circle cx="483.4" cy="455.3" r="2.1" fill="#fff" stroke="#2ca02c" stroke-width="1.1"/>
<circle cx="490.8" cy="449.5" r="2.1" fill="#fff" stroke="#2ca02c" stroke-width="1.1"/>
<circle cx="498.2" cy="441.2" r="2.1" fill="#fff" stroke="#2ca02c" stroke-width="1.1"/>
<circle cx="505.6" cy="440.9" r="2.1" fill="#fff" stroke="#2ca02c" stroke-width="1.1"/>
<circle cx="512.9" cy="438.3" r="2.1" fill="#fff" stroke="#2ca02c" stroke-width="1.1"/>
<circle cx="520.3" cy="430.3" r="2.1" fill="#fff" stroke="#2ca02c" stroke-width="1.1"/>
<circle cx="527.7" cy="426.5" r="2.1" fill="#fff" stroke="#2ca02c" stroke-width="1.1"/>
<circle cx="535.1" cy="421.7" r="2.1" fill="#fff" stroke="#2ca02c" stroke-width="1.1"/>
<circle cx="542.5" cy="422.3" r="2.1" fill="#fff" stroke="#2ca02c" stroke-width="1.1"/>
<circle cx="549.9" cy="420.6" r="2.1" fill="#fff" stroke="#2ca02c" stroke-width="1.1"/>
<circle cx="557.3" cy="431.6" r="2.1" fill="#fff" stroke="#2ca02c" stroke-width="1.1"/>
<circle cx="564.6" cy="437.6" r="2.1" fill="#fff" stroke="#2ca02c" stroke-width="1.1"/>
<circle cx="572.0" cy="442.4" r="2.1" fill="#fff" stroke="#2ca02c" stroke-width="1.1"/>
<circle cx="579.4" cy="446.5" r="2.1" fill="#fff" stroke="#2ca02c" stroke-width="1.1"/>
<circle cx="586.8" cy="448.6" r="2.1" fill="#fff" stroke="#2ca02c" stroke-width="1.1"/>
<circle cx="594.2" cy="452.3" r="2.1" fill="#fff" stroke="#2ca02c" stroke-width="1.1"/>
<circle cx="601.6" cy="451.3" r="2.1" fill="#fff" stroke="#2ca02c" stroke-width="1.1"/>
<circle cx="609.0" cy="462.3" r="2.1" fill="#fff" stroke="#2ca02c" stroke-width="1.1"/>
<circle cx="616.3" cy="462.3" r="2.1" fill="#fff" stroke="#2ca02c" stroke-width="1.1"/>
<circle cx="623.7" cy="452.9" r="2.1" fill="#fff" stroke="#2ca02c" stroke-width="1.1"/>
<circle cx="631.1" cy="455.3" r="2.1" fill="#fff" stroke="#2ca02c" stroke-width="1.1"/>
<circle cx="638.5" cy="448.4" r="2.1" fill="#fff" stroke="#2ca02c" stroke-width="1.1"/>
<circle cx="645.9" cy="441.5" r="2.1" fill="#fff" stroke="#2ca02c" stroke-width="1.1"/>
<circle cx="653.3" cy="439.6" r="2.1" fill="#fff" stroke="#2ca02c" stroke-width="1.1"/>
<circle cx="660.6" cy="442.8" r="2.1" fill="#fff" stroke="#2ca02c" stroke-width="1.1"/>
<circle cx="668.0" cy="438.8" r="2.1" fill="#fff" stroke="#2ca02c" stroke-width="1.1"/>
<circle cx="675.4" cy="433.2" r="2.1" fill="#fff" stroke="#2ca02c" stroke-width="1.1"/>
<circle cx="682.8" cy="432.4" r="2.1" fill="#fff" stroke="#2ca02c" stroke-width="1.1"/>
</g>
<g clip-path="url(#clipq)">
<polyline points="291.4,407.9 298.78,414 306.17,423.3 313.55,424.9 320.94,429.2 328.32,436.7 335.71,432.4 343.09,441.2 350.48,445.2 357.87,437.2 365.25,433.2 372.63,426.5 380.02,420.7 387.4,424.6 394.79,419.6 402.17,412.4 409.56,411.1 416.94,399.9 424.33,417.5 431.71,422.8 439.1,424.9 446.49,428.4 453.87,433.5 461.25,438.8 468.64,441.5 476.02,442.8 483.41,444.4 490.79,445.2 498.18,438.8 505.56,436.1 512.95,435.1 520.34,424.9 527.72,422.8 535.11,415.3 542.49,414.8 549.88,415 557.26,417 564.64,433 572.03,425.8 579.41,429.4 586.8,434.2 594.18,440.8 601.57,439.3 608.95,446.8 616.34,444.4 623.72,442.8 631.11,440.9 638.49,435.1 645.88,433.2 653.26,432.4 660.65,428.7 668.03,424.9 675.42,415.9 682.8,414" fill="none" stroke="#1f77b4" stroke-width="1.9" stroke-linejoin="round"/>
<path d="M291.4,405.0l1.45,2.9l-1.45,2.9l-1.45,-2.9z" fill="#fff" stroke="#1f77b4" stroke-width="1.2"/>
<path d="M298.8,411.1l1.45,2.9l-1.45,2.9l-1.45,-2.9z" fill="#fff" stroke="#1f77b4" stroke-width="1.2"/>
<path d="M306.2,420.4l1.45,2.9l-1.45,2.9l-1.45,-2.9z" fill="#fff" stroke="#1f77b4" stroke-width="1.2"/>
<path d="M313.6,422.0l1.45,2.9l-1.45,2.9l-1.45,-2.9z" fill="#fff" stroke="#1f77b4" stroke-width="1.2"/>
<path d="M320.9,426.3l1.45,2.9l-1.45,2.9l-1.45,-2.9z" fill="#fff" stroke="#1f77b4" stroke-width="1.2"/>
<path d="M328.3,433.8l1.45,2.9l-1.45,2.9l-1.45,-2.9z" fill="#fff" stroke="#1f77b4" stroke-width="1.2"/>
<path d="M335.7,429.5l1.45,2.9l-1.45,2.9l-1.45,-2.9z" fill="#fff" stroke="#1f77b4" stroke-width="1.2"/>
<path d="M343.1,438.3l1.45,2.9l-1.45,2.9l-1.45,-2.9z" fill="#fff" stroke="#1f77b4" stroke-width="1.2"/>
<path d="M350.5,442.3l1.45,2.9l-1.45,2.9l-1.45,-2.9z" fill="#fff" stroke="#1f77b4" stroke-width="1.2"/>
<path d="M357.9,434.3l1.45,2.9l-1.45,2.9l-1.45,-2.9z" fill="#fff" stroke="#1f77b4" stroke-width="1.2"/>
<path d="M365.2,430.3l1.45,2.9l-1.45,2.9l-1.45,-2.9z" fill="#fff" stroke="#1f77b4" stroke-width="1.2"/>
<path d="M372.6,423.6l1.45,2.9l-1.45,2.9l-1.45,-2.9z" fill="#fff" stroke="#1f77b4" stroke-width="1.2"/>
<path d="M380.0,417.8l1.45,2.9l-1.45,2.9l-1.45,-2.9z" fill="#fff" stroke="#1f77b4" stroke-width="1.2"/>
<path d="M387.4,421.7l1.45,2.9l-1.45,2.9l-1.45,-2.9z" fill="#fff" stroke="#1f77b4" stroke-width="1.2"/>
<path d="M394.8,416.7l1.45,2.9l-1.45,2.9l-1.45,-2.9z" fill="#fff" stroke="#1f77b4" stroke-width="1.2"/>
<path d="M402.2,409.5l1.45,2.9l-1.45,2.9l-1.45,-2.9z" fill="#fff" stroke="#1f77b4" stroke-width="1.2"/>
<path d="M409.6,408.2l1.45,2.9l-1.45,2.9l-1.45,-2.9z" fill="#fff" stroke="#1f77b4" stroke-width="1.2"/>
<path d="M416.9,397.0l1.45,2.9l-1.45,2.9l-1.45,-2.9z" fill="#fff" stroke="#1f77b4" stroke-width="1.2"/>
<path d="M424.3,414.6l1.45,2.9l-1.45,2.9l-1.45,-2.9z" fill="#fff" stroke="#1f77b4" stroke-width="1.2"/>
<path d="M431.7,419.9l1.45,2.9l-1.45,2.9l-1.45,-2.9z" fill="#fff" stroke="#1f77b4" stroke-width="1.2"/>
<path d="M439.1,422.0l1.45,2.9l-1.45,2.9l-1.45,-2.9z" fill="#fff" stroke="#1f77b4" stroke-width="1.2"/>
<path d="M446.5,425.5l1.45,2.9l-1.45,2.9l-1.45,-2.9z" fill="#fff" stroke="#1f77b4" stroke-width="1.2"/>
<path d="M453.9,430.6l1.45,2.9l-1.45,2.9l-1.45,-2.9z" fill="#fff" stroke="#1f77b4" stroke-width="1.2"/>
<path d="M461.3,435.9l1.45,2.9l-1.45,2.9l-1.45,-2.9z" fill="#fff" stroke="#1f77b4" stroke-width="1.2"/>
<path d="M468.6,438.6l1.45,2.9l-1.45,2.9l-1.45,-2.9z" fill="#fff" stroke="#1f77b4" stroke-width="1.2"/>
<path d="M476.0,439.9l1.45,2.9l-1.45,2.9l-1.45,-2.9z" fill="#fff" stroke="#1f77b4" stroke-width="1.2"/>
<path d="M483.4,441.5l1.45,2.9l-1.45,2.9l-1.45,-2.9z" fill="#fff" stroke="#1f77b4" stroke-width="1.2"/>
<path d="M490.8,442.3l1.45,2.9l-1.45,2.9l-1.45,-2.9z" fill="#fff" stroke="#1f77b4" stroke-width="1.2"/>
<path d="M498.2,435.9l1.45,2.9l-1.45,2.9l-1.45,-2.9z" fill="#fff" stroke="#1f77b4" stroke-width="1.2"/>
<path d="M505.6,433.2l1.45,2.9l-1.45,2.9l-1.45,-2.9z" fill="#fff" stroke="#1f77b4" stroke-width="1.2"/>
<path d="M512.9,432.2l1.45,2.9l-1.45,2.9l-1.45,-2.9z" fill="#fff" stroke="#1f77b4" stroke-width="1.2"/>
<path d="M520.3,422.0l1.45,2.9l-1.45,2.9l-1.45,-2.9z" fill="#fff" stroke="#1f77b4" stroke-width="1.2"/>
<path d="M527.7,419.9l1.45,2.9l-1.45,2.9l-1.45,-2.9z" fill="#fff" stroke="#1f77b4" stroke-width="1.2"/>
<path d="M535.1,412.4l1.45,2.9l-1.45,2.9l-1.45,-2.9z" fill="#fff" stroke="#1f77b4" stroke-width="1.2"/>
<path d="M542.5,411.9l1.45,2.9l-1.45,2.9l-1.45,-2.9z" fill="#fff" stroke="#1f77b4" stroke-width="1.2"/>
<path d="M549.9,412.1l1.45,2.9l-1.45,2.9l-1.45,-2.9z" fill="#fff" stroke="#1f77b4" stroke-width="1.2"/>
<path d="M557.3,414.1l1.45,2.9l-1.45,2.9l-1.45,-2.9z" fill="#fff" stroke="#1f77b4" stroke-width="1.2"/>
<path d="M564.6,430.1l1.45,2.9l-1.45,2.9l-1.45,-2.9z" fill="#fff" stroke="#1f77b4" stroke-width="1.2"/>
<path d="M572.0,422.9l1.45,2.9l-1.45,2.9l-1.45,-2.9z" fill="#fff" stroke="#1f77b4" stroke-width="1.2"/>
<path d="M579.4,426.5l1.45,2.9l-1.45,2.9l-1.45,-2.9z" fill="#fff" stroke="#1f77b4" stroke-width="1.2"/>
<path d="M586.8,431.3l1.45,2.9l-1.45,2.9l-1.45,-2.9z" fill="#fff" stroke="#1f77b4" stroke-width="1.2"/>
<path d="M594.2,437.9l1.45,2.9l-1.45,2.9l-1.45,-2.9z" fill="#fff" stroke="#1f77b4" stroke-width="1.2"/>
<path d="M601.6,436.4l1.45,2.9l-1.45,2.9l-1.45,-2.9z" fill="#fff" stroke="#1f77b4" stroke-width="1.2"/>
<path d="M609.0,443.9l1.45,2.9l-1.45,2.9l-1.45,-2.9z" fill="#fff" stroke="#1f77b4" stroke-width="1.2"/>
<path d="M616.3,441.5l1.45,2.9l-1.45,2.9l-1.45,-2.9z" fill="#fff" stroke="#1f77b4" stroke-width="1.2"/>
<path d="M623.7,439.9l1.45,2.9l-1.45,2.9l-1.45,-2.9z" fill="#fff" stroke="#1f77b4" stroke-width="1.2"/>
<path d="M631.1,438.0l1.45,2.9l-1.45,2.9l-1.45,-2.9z" fill="#fff" stroke="#1f77b4" stroke-width="1.2"/>
<path d="M638.5,432.2l1.45,2.9l-1.45,2.9l-1.45,-2.9z" fill="#fff" stroke="#1f77b4" stroke-width="1.2"/>
<path d="M645.9,430.3l1.45,2.9l-1.45,2.9l-1.45,-2.9z" fill="#fff" stroke="#1f77b4" stroke-width="1.2"/>
<path d="M653.3,429.5l1.45,2.9l-1.45,2.9l-1.45,-2.9z" fill="#fff" stroke="#1f77b4" stroke-width="1.2"/>
<path d="M660.6,425.8l1.45,2.9l-1.45,2.9l-1.45,-2.9z" fill="#fff" stroke="#1f77b4" stroke-width="1.2"/>
<path d="M668.0,422.0l1.45,2.9l-1.45,2.9l-1.45,-2.9z" fill="#fff" stroke="#1f77b4" stroke-width="1.2"/>
<path d="M675.4,413.0l1.45,2.9l-1.45,2.9l-1.45,-2.9z" fill="#fff" stroke="#1f77b4" stroke-width="1.2"/>
<path d="M682.8,411.1l1.45,2.9l-1.45,2.9l-1.45,-2.9z" fill="#fff" stroke="#1f77b4" stroke-width="1.2"/>
</g>
<line x1="291.4" y1="301.6" x2="291.4" y2="379" stroke="#000" stroke-width="1"/>
<line x1="291.4" y1="390.8" x2="291.4" y2="468.2" stroke="#000" stroke-width="1"/>
<line x1="290.9" y1="379" x2="685" y2="379" stroke="#000" stroke-width="1"/>
<line x1="290.9" y1="468.2" x2="685" y2="468.2" stroke="#000" stroke-width="1"/>
<line x1="569.3" y1="354" x2="593.9" y2="354" stroke="#1f77b4" stroke-width="1.9"/>
<path d="M581.6,351.1l1.45,2.9l-1.45,2.9l-1.45,-2.9z" fill="#fff" stroke="#1f77b4" stroke-width="1.2"/>
<line x1="569.3" y1="365.7" x2="593.9" y2="365.7" stroke="#2ca02c" stroke-width="1.9"/>
<circle cx="581.6" cy="365.7" r="2.1" fill="#fff" stroke="#2ca02c" stroke-width="1.1"/>
<text x="602.5" y="357.87" font-size="10.8">trace 1</text>
<text x="602.5" y="369.57" font-size="10.8">trace 2</text>
</svg>
</body></html>
